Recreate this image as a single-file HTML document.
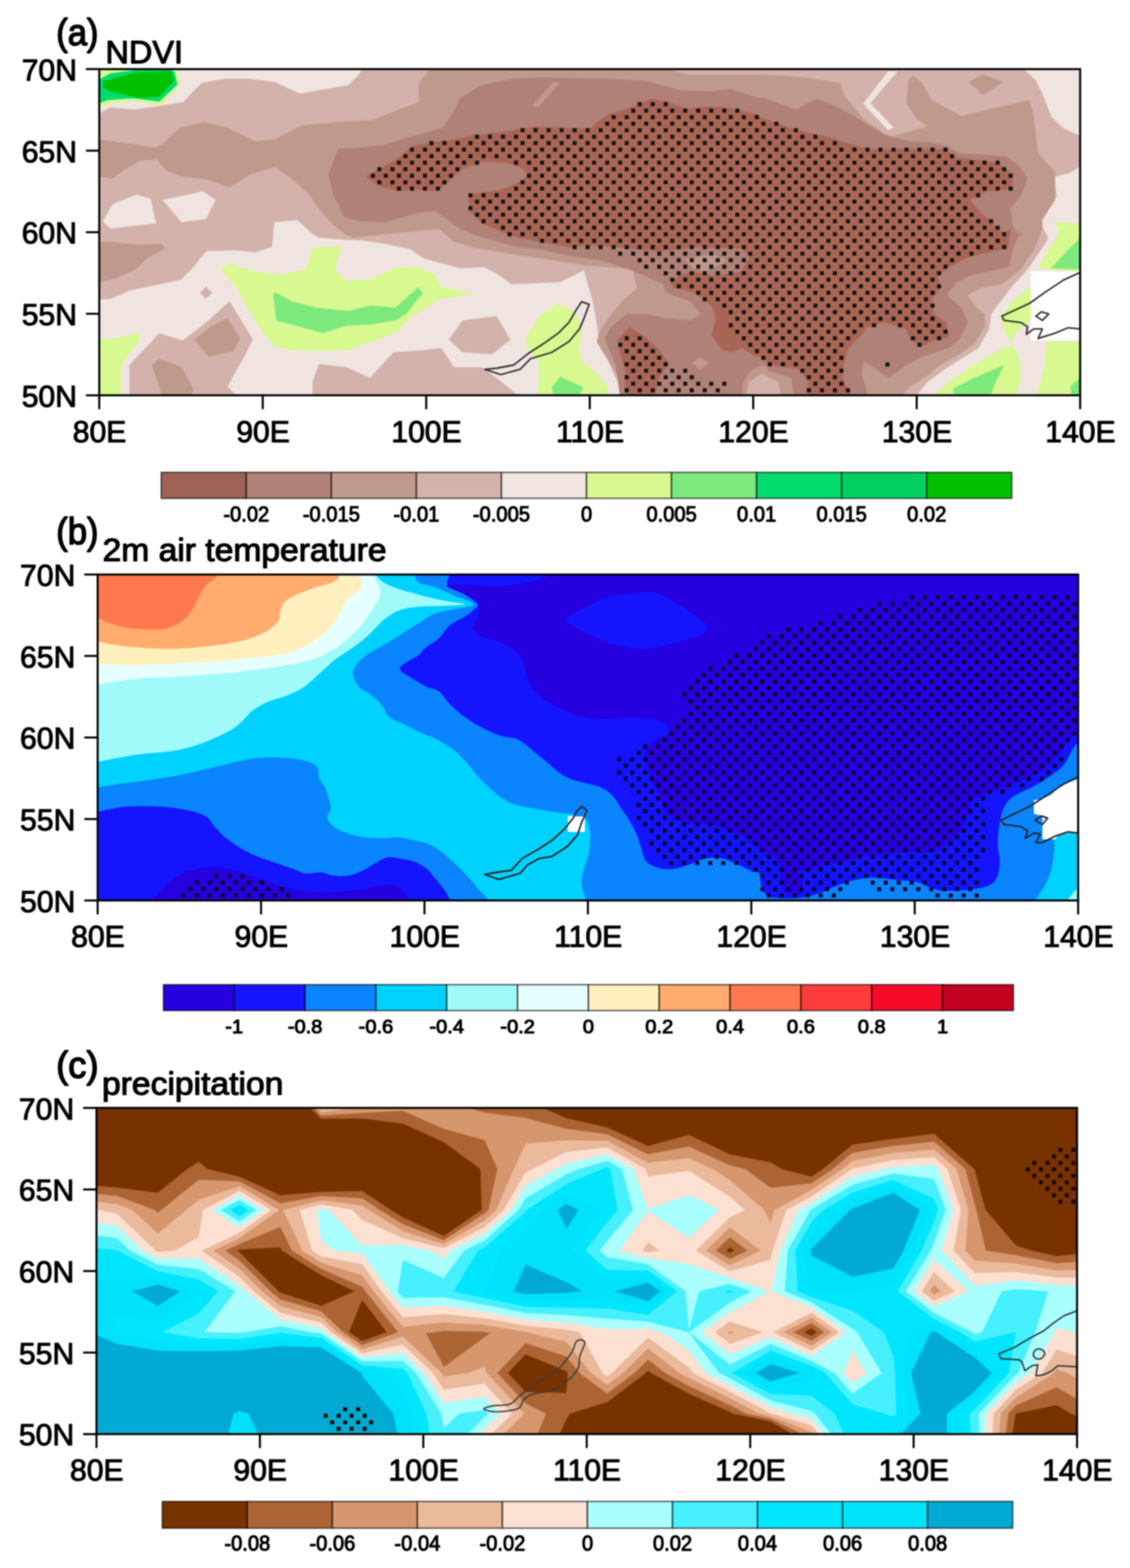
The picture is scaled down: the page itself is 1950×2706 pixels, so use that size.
<!DOCTYPE html>
<html lang="en"><head><meta charset="utf-8"><title>NDVI, 2m air temperature, precipitation</title>
<style>
html,body{margin:0;padding:0;background:#fff}
svg{display:block;filter:blur(1.2px)}
text{font-family:"Liberation Sans",sans-serif;fill:#000}
.t{font-size:52px;stroke:#000;stroke-width:1.6px;stroke-linejoin:round}
.yl{text-anchor:end}
.xl{text-anchor:middle}
.cl{text-anchor:middle;stroke:#000;stroke-width:1.6px;stroke-linejoin:round}
.ttl{font-size:56px;stroke:#000;stroke-width:1.9px;stroke-linejoin:round}
.lab{font-size:65px;stroke:#000;stroke-width:2.4px;stroke-linejoin:round}
.fr{fill:none;stroke:#000;stroke-width:3.5}
.tk{fill:none;stroke:#000;stroke-width:3.5}
.cb{stroke:#000;stroke-opacity:.62;stroke-width:2.4}
</style></head><body>
<svg width="1950" height="2706" viewBox="0 0 1950 2706">
<rect width="1950" height="2706" fill="#fff"/>
<g id="panel-a">
<clipPath id="clip-a"><rect x="171.3" y="119.3" width="1692.7" height="562.9"/></clipPath>
<g clip-path="url(#clip-a)">
<rect x="150" y="100" width="1750" height="600" fill="#d2b2aa"/>
<polygon fill="#f0e4e1" points="171.3,196.3 190.4,185.3 232.6,188.9 271.2,183.4 317.1,176.1 326.3,165.1 348.3,143 388.7,135.7 429.1,135.7 473.1,141.2 517.2,161.4 601.7,146.7 623.7,122.9 623.7,110 150,110 150,196.3"/>
<polygon fill="#f0e4e1" points="177.5,381.7 194.1,352.4 234.5,335.8 260.2,343.2 269.3,385.4 190.4,394.6"/>
<polygon fill="#f0e4e1" points="280.4,345 350.1,330.3 372.2,345 355.6,378.1 313.4,383.6"/>
<polygon fill="#f0e4e1" points="150,516.2 171.3,516.2 190.4,516.2 223.4,501.5 311.6,483.1 333.6,461.1 355.6,433.6 407,431.7 440.1,435.4 469.5,426.2 473.1,383.6 513.5,379.9 539.2,403.8 550.2,410.1 590.6,413.4 627.4,415.2 664.1,420.7 708.1,429.9 732,446.4 794.5,462.9 834.8,461.1 856.9,472.1 882.6,490.5 930.3,488.6 967,486.8 1007.4,466.6 1022.1,516.2 1029.5,556.6 1033.1,585.9 1040.5,600.6 1058.8,644.7 1077.2,681.8 1077.2,699.8 150,699.8"/>
<polygon fill="#f0e4e1" points="1768.3,110 1768.3,121 1786.6,137.5 1799.5,163.2 1814.2,201.8 1836.2,222 1864.7,234.8 1882.1,234.8 1882.1,110"/>
<polygon fill="#f0e4e1" points="1882.1,282.6 1864.7,286.3 1845.4,299.1 1819.7,304.6 1823.4,339.5 1795.8,385.4 1808.7,410 1813.5,395 1806.1,417 1773.1,464.8 1743.7,497.8 1710.6,541.9 1707,567.6 1688.6,600.6 1659.2,619 1629.9,637.4 1600.5,659.4 1582.1,681.8 1582.1,699.8 1894.2,699.8"/>
<polygon fill="#d2b2aa" points="223.4,630 274.8,574.9 315.2,587.8 355.6,556.6 396,519.8 436.4,585.9 421.7,615.3 392.4,666.7 407,681.8 407,699.8 223.4,699.8"/>
<polygon fill="#d2b2aa" points="539.2,699.8 539.2,659.4 550.2,628.2 598,633.7 638.4,652 678.8,608 730.2,604.3 730.2,604.3 761.4,600.6 783.4,633.7 831.2,633.7 856.9,652 886.3,675.9 893.6,681.8 893.6,699.8"/>
<polygon fill="#d2b2aa" points="774.3,585.9 798.1,552.9 856.9,545.6 880.7,585.9 849.5,611.6 798.1,608"/>
<polygon fill="#d2b2aa" points="344.6,505.2 355.6,494.9 366.6,505.2 355.6,515.4"/>
<polygon fill="#bf998c" points="150,240.4 171.3,240.4 223.4,247.7 271.2,255 311.6,220.2 353.8,211 392.4,220.2 440.1,244 473.1,240.4 520.9,216.5 601.7,209.1 642,207.3 722.8,176.1 722.8,143 737.5,124.7 737.5,110 1150.6,110 1150.6,119.2 1187.4,128.4 1310,128.4 1343.4,130.2 1391.2,133.9 1449.9,143 1457.3,165.1 1490.3,205.5 1527,231.2 1541.7,234.8 1600.5,218.3 1582.1,205.5 1563.8,177.9 1567.4,139.4 1574.8,130.2 1589.5,141.2 1607.8,172.4 1659.2,200 1776.7,172.4 1784.1,201.8 1791.4,264.2 1820.8,297.3 1820.8,345 1798.8,378.1 1798.8,395 1784.1,431.7 1762,464.8 1729,490.5 1695.9,496 1670.2,508.8 1684.9,530.9 1699.6,541.9 1699.6,563.9 1681.3,593.3 1655.6,611.6 1622.5,630 1600.5,648.4 1571.1,666.7 1556.4,681.8 1556.4,699.8 1069.9,699.8 1069.9,681.8 1064.3,644.7 1040.5,608 1029.5,589.6 1036.8,567.6 1055.2,541.9 1077.2,516.2 1099.2,497.8 1091.9,464.8 1003.8,457.4 937.7,446.4 886.3,439.1 820.2,428 783.4,417 757.7,395 609,410 594.3,403.8 572.3,385.4 550.2,359.7 531.9,334 502.5,308.3 475,288.1 432.7,300.9 396,323 359.3,310.1 311.6,304.6 285.9,293.6 271.2,275.2 241.8,277.1 214.3,293.6 194.1,308.3 171.3,304.6 150,304.6"/>
<polygon fill="#bf998c" points="150,417 171.3,417 186.7,417 241.8,422.5 278.5,420.7 285.9,428 252.8,446.4 234.5,464.8 197.7,481.3 171.3,486.8 150,486.8"/>
<polygon fill="#bf998c" points="335.4,585.9 363,563.9 392.4,549.2 414.4,584.1 403.4,606.1 359.3,615.3"/>
<polygon fill="#bf998c" points="262,630 274.8,619 313.4,633.7 333.6,670.4 326.3,699.8 285.9,699.8"/>
<polygon fill="#bf998c" points="1671,141.2 1696.7,128.4 1731.6,141.2 1696.7,164.2"/>
<polygon fill="#f0e4e1" points="1532.5,122.9 1549.1,122.9 1502.1,177.9 1542.5,220.2 1532.5,224.6 1489.6,179"/>
<polygon fill="#b08176" points="583.3,256.9 623.7,255 664.1,249.5 700.8,238.5 765.1,220.2 783.4,190.8 794.5,168.8 831.2,146.7 886.3,135.7 937.7,133.9 1040.5,135.7 1113.9,139.4 1176.3,155.9 1224.1,157.7 1260.8,154.1 1310,168.8 1317.7,168.8 1372.8,188.9 1409.5,170.6 1442.6,183.4 1475.6,201.8 1505,220.2 1534.4,236.7 1574.8,244 1607.8,245.9 1637.2,253.2 1655.6,264.2 1736.3,269.7 1758.4,286.3 1773.1,308.3 1762,337.7 1743.7,359.7 1747.4,389.1 1762,410 1762,395 1747.4,431.7 1740,461.1 1673.9,475.8 1651.9,486.8 1633.5,508.8 1659.2,530.9 1670.2,556.6 1655.6,585.9 1637.2,600.6 1593.1,615.3 1563.8,630 1534.4,652 1490.3,622.7 1486.6,644.7 1497.7,681.8 1497.7,699.8 1077.2,699.8 1069.9,681.8 1062.5,630 1044.1,585.9 1051.5,567.6 1080.9,541.9 1113.9,541.9 1150.6,549.2 1191,552.9 1209.4,541.9 1191,519.8 1150.6,505.2 1143.3,490.5 1095.6,468.4 1040.5,450.1 989.1,442.7 937.7,431.7 886.3,424.4 820.2,406 794.5,395 750,363.4 722.8,367 664.1,383.6 620,381.7 594.3,374.4 575.9,337.7 566.8,300.9"/>
<polygon fill="#bf998c" points="1277.3,699.8 1282.8,659.4 1297.5,637.4 1319.5,630 1325.1,639.2 1365.5,652 1372.8,699.8"/>
<polygon fill="#d2b2aa" points="1284.7,699.8 1292,659.4 1314.1,644.7 1343.4,659.4 1350.8,699.8"/>
<polygon fill="#bf998c" points="954.2,141.2 967,142.3 930.3,183.4 917.5,183.4"/>
<polygon fill="#aa6655" points="631,304.6 664.1,286.3 693.5,267.9 711.8,251.4 746.7,245.9 783.4,240.4 820.2,233 867.9,227.5 923,218.3 974.4,220.2 1018.4,222 1033.1,209.1 1047.8,198.1 1077.2,188.9 1124.9,170.6 1154.3,176.1 1183.7,187.1 1224.1,183.4 1253.5,185.3 1310,198.1 1306.7,200 1372.8,223.8 1431.6,236.7 1464.6,247.7 1497.7,256.9 1633.5,256.9 1648.2,271.6 1721.7,280.7 1747.4,300.9 1747.4,326.6 1703.3,330.3 1673.9,345 1692.3,367 1710.6,381.7 1732.7,403.8 1743.7,395 1740,428 1673.9,442.7 1637.2,461.1 1618.8,475.8 1622.5,497.8 1607.8,516.2 1611.5,541.9 1633.5,556.6 1637.2,582.3 1611.5,587.8 1589.5,598.8 1571.1,585.9 1563.8,567.6 1527,556.6 1497.7,563.9 1486.6,578.6 1464.6,600.6 1457.3,622.7 1453.6,652 1468.3,681.8 1468.3,699.8 1391.2,699.8 1394.8,659.4 1380.2,637.4 1328.8,630 1306.7,611.6 1292,600.6 1270,585.9 1282.8,585.9 1260.8,563.9 1253.5,541.9 1224.1,523.5 1198.4,505.2 1161.7,496 1150.6,475.8 1113.9,461.1 1069.9,439.1 989.1,428 930.3,417 875.2,406 875.2,403.8 831.2,385.4 809.1,363.4 809.1,335.8 867.9,326.6 897.3,313.8 910.1,302.8 900.9,289.9 871.6,280.7 831.2,278.9 794.5,293.6 772.4,315.6 754.1,330.3 710,326.6 689.8,330.3 653.1,321.1"/>
<polygon fill="#aa6655" points="1066.3,585.9 1085.9,563.9 1112.8,581 1137.3,603.1 1154.4,627.6 1137.3,652 1127.5,693.7 1078.5,693.7 1078.5,639.8 1071.2,615.3"/>
<polygon fill="#aa6655" points="1213.2,512.5 1230.3,532.1 1235.2,549.2 1227.9,578.6 1245,603.1 1262.1,608 1279.3,600.6 1303.8,615.3 1318.4,616.5 1281.7,582.3 1262.1,563.9 1271.9,549.2 1252.4,528.4"/>
<polygon fill="#b08176" points="1010,423.2 1071.2,426.8 1132.4,434.2 1205.8,426.8 1279.3,429.3 1294,444 1279.3,468.4 1230.3,475.8 1193.6,468.4 1171.6,475.8 1147.1,492.9 1115.3,466 1081,453.8 1034.5,441.5 1010,432.9 990.4,426.8"/>
<polygon fill="#bf998c" points="1181.4,446.4 1230.3,437.8 1254.8,450.1 1218.1,468.4 1196,463.5"/>
<polygon fill="#bf998c" points="1193.6,627.1 1208.3,616.5 1223,627.6 1208.3,638.6"/>
<path d="M1103.9 179.8h0M1126.4 179.8h0M1148.8 179.8h0M1092.7 191.0h0M1115.1 191.0h0M1137.6 191.0h0M1160.1 191.0h0M1182.5 191.0h0M1205.0 191.0h0M1227.4 191.0h0M1249.9 191.0h0M1272.4 191.0h0M1059.0 202.2h0M1081.5 202.2h0M1103.9 202.2h0M1126.4 202.2h0M1148.8 202.2h0M1171.3 202.2h0M1193.8 202.2h0M1216.2 202.2h0M1238.7 202.2h0M1261.1 202.2h0M1283.6 202.2h0M1306.1 202.2h0M1047.8 213.4h0M1070.2 213.4h0M1092.7 213.4h0M1115.1 213.4h0M1137.6 213.4h0M1160.1 213.4h0M1182.5 213.4h0M1205.0 213.4h0M1227.4 213.4h0M1249.9 213.4h0M1272.4 213.4h0M1294.8 213.4h0M1317.3 213.4h0M1339.8 213.4h0M901.8 224.7h0M924.2 224.7h0M946.7 224.7h0M969.2 224.7h0M991.6 224.7h0M1014.1 224.7h0M1036.5 224.7h0M1059.0 224.7h0M1081.5 224.7h0M1103.9 224.7h0M1126.4 224.7h0M1148.8 224.7h0M1171.3 224.7h0M1193.8 224.7h0M1216.2 224.7h0M1238.7 224.7h0M1261.1 224.7h0M1283.6 224.7h0M1306.1 224.7h0M1328.5 224.7h0M1351.0 224.7h0M1373.4 224.7h0M823.2 235.9h0M845.6 235.9h0M868.1 235.9h0M890.5 235.9h0M913.0 235.9h0M935.5 235.9h0M957.9 235.9h0M980.4 235.9h0M1002.8 235.9h0M1025.3 235.9h0M1047.8 235.9h0M1070.2 235.9h0M1092.7 235.9h0M1115.1 235.9h0M1137.6 235.9h0M1160.1 235.9h0M1182.5 235.9h0M1205.0 235.9h0M1227.4 235.9h0M1249.9 235.9h0M1272.4 235.9h0M1294.8 235.9h0M1317.3 235.9h0M1339.8 235.9h0M1362.2 235.9h0M1384.7 235.9h0M1407.1 235.9h0M744.6 247.1h0M767.0 247.1h0M789.5 247.1h0M811.9 247.1h0M834.4 247.1h0M856.9 247.1h0M879.3 247.1h0M901.8 247.1h0M924.2 247.1h0M946.7 247.1h0M969.2 247.1h0M991.6 247.1h0M1014.1 247.1h0M1036.5 247.1h0M1059.0 247.1h0M1081.5 247.1h0M1103.9 247.1h0M1126.4 247.1h0M1148.8 247.1h0M1171.3 247.1h0M1193.8 247.1h0M1216.2 247.1h0M1238.7 247.1h0M1261.1 247.1h0M1283.6 247.1h0M1306.1 247.1h0M1328.5 247.1h0M1351.0 247.1h0M1373.4 247.1h0M1395.9 247.1h0M1418.4 247.1h0M1440.8 247.1h0M710.9 258.3h0M733.3 258.3h0M755.8 258.3h0M778.2 258.3h0M800.7 258.3h0M823.2 258.3h0M845.6 258.3h0M868.1 258.3h0M890.5 258.3h0M913.0 258.3h0M935.5 258.3h0M957.9 258.3h0M980.4 258.3h0M1002.8 258.3h0M1025.3 258.3h0M1047.8 258.3h0M1070.2 258.3h0M1092.7 258.3h0M1115.1 258.3h0M1137.6 258.3h0M1160.1 258.3h0M1182.5 258.3h0M1205.0 258.3h0M1227.4 258.3h0M1249.9 258.3h0M1272.4 258.3h0M1294.8 258.3h0M1317.3 258.3h0M1339.8 258.3h0M1362.2 258.3h0M1384.7 258.3h0M1407.1 258.3h0M1429.6 258.3h0M1452.0 258.3h0M1474.5 258.3h0M1497.0 258.3h0M1519.4 258.3h0M1541.9 258.3h0M1564.3 258.3h0M1586.8 258.3h0M1609.3 258.3h0M1631.7 258.3h0M699.6 269.5h0M722.1 269.5h0M744.6 269.5h0M767.0 269.5h0M789.5 269.5h0M811.9 269.5h0M834.4 269.5h0M856.9 269.5h0M879.3 269.5h0M901.8 269.5h0M924.2 269.5h0M946.7 269.5h0M969.2 269.5h0M991.6 269.5h0M1014.1 269.5h0M1036.5 269.5h0M1059.0 269.5h0M1081.5 269.5h0M1103.9 269.5h0M1126.4 269.5h0M1148.8 269.5h0M1171.3 269.5h0M1193.8 269.5h0M1216.2 269.5h0M1238.7 269.5h0M1261.1 269.5h0M1283.6 269.5h0M1306.1 269.5h0M1328.5 269.5h0M1351.0 269.5h0M1373.4 269.5h0M1395.9 269.5h0M1418.4 269.5h0M1440.8 269.5h0M1463.3 269.5h0M1485.7 269.5h0M1508.2 269.5h0M1530.7 269.5h0M1553.1 269.5h0M1575.6 269.5h0M1598.0 269.5h0M1620.5 269.5h0M1643.0 269.5h0M688.4 280.8h0M710.9 280.8h0M733.3 280.8h0M755.8 280.8h0M778.2 280.8h0M800.7 280.8h0M823.2 280.8h0M890.5 280.8h0M913.0 280.8h0M935.5 280.8h0M957.9 280.8h0M980.4 280.8h0M1002.8 280.8h0M1025.3 280.8h0M1047.8 280.8h0M1070.2 280.8h0M1092.7 280.8h0M1115.1 280.8h0M1137.6 280.8h0M1160.1 280.8h0M1182.5 280.8h0M1205.0 280.8h0M1227.4 280.8h0M1249.9 280.8h0M1272.4 280.8h0M1294.8 280.8h0M1317.3 280.8h0M1339.8 280.8h0M1362.2 280.8h0M1384.7 280.8h0M1407.1 280.8h0M1429.6 280.8h0M1452.0 280.8h0M1474.5 280.8h0M1497.0 280.8h0M1519.4 280.8h0M1541.9 280.8h0M1564.3 280.8h0M1586.8 280.8h0M1609.3 280.8h0M1631.7 280.8h0M1654.2 280.8h0M1676.6 280.8h0M1699.1 280.8h0M1721.6 280.8h0M654.7 292.0h0M677.2 292.0h0M699.6 292.0h0M722.1 292.0h0M744.6 292.0h0M767.0 292.0h0M789.5 292.0h0M924.2 292.0h0M946.7 292.0h0M969.2 292.0h0M991.6 292.0h0M1014.1 292.0h0M1036.5 292.0h0M1059.0 292.0h0M1081.5 292.0h0M1103.9 292.0h0M1126.4 292.0h0M1148.8 292.0h0M1171.3 292.0h0M1193.8 292.0h0M1216.2 292.0h0M1238.7 292.0h0M1261.1 292.0h0M1283.6 292.0h0M1306.1 292.0h0M1328.5 292.0h0M1351.0 292.0h0M1373.4 292.0h0M1395.9 292.0h0M1418.4 292.0h0M1440.8 292.0h0M1463.3 292.0h0M1485.7 292.0h0M1508.2 292.0h0M1530.7 292.0h0M1553.1 292.0h0M1575.6 292.0h0M1598.0 292.0h0M1620.5 292.0h0M1643.0 292.0h0M1665.4 292.0h0M1687.9 292.0h0M1710.3 292.0h0M1732.8 292.0h0M643.5 303.2h0M665.9 303.2h0M688.4 303.2h0M710.9 303.2h0M733.3 303.2h0M755.8 303.2h0M778.2 303.2h0M913.0 303.2h0M935.5 303.2h0M957.9 303.2h0M980.4 303.2h0M1002.8 303.2h0M1025.3 303.2h0M1047.8 303.2h0M1070.2 303.2h0M1092.7 303.2h0M1115.1 303.2h0M1137.6 303.2h0M1160.1 303.2h0M1182.5 303.2h0M1205.0 303.2h0M1227.4 303.2h0M1249.9 303.2h0M1272.4 303.2h0M1294.8 303.2h0M1317.3 303.2h0M1339.8 303.2h0M1362.2 303.2h0M1384.7 303.2h0M1407.1 303.2h0M1429.6 303.2h0M1452.0 303.2h0M1474.5 303.2h0M1497.0 303.2h0M1519.4 303.2h0M1541.9 303.2h0M1564.3 303.2h0M1586.8 303.2h0M1609.3 303.2h0M1631.7 303.2h0M1654.2 303.2h0M1676.6 303.2h0M1699.1 303.2h0M1721.6 303.2h0M1744.0 303.2h0M654.7 314.4h0M677.2 314.4h0M699.6 314.4h0M722.1 314.4h0M744.6 314.4h0M767.0 314.4h0M901.8 314.4h0M924.2 314.4h0M946.7 314.4h0M969.2 314.4h0M991.6 314.4h0M1014.1 314.4h0M1036.5 314.4h0M1059.0 314.4h0M1081.5 314.4h0M1103.9 314.4h0M1126.4 314.4h0M1148.8 314.4h0M1171.3 314.4h0M1193.8 314.4h0M1216.2 314.4h0M1238.7 314.4h0M1261.1 314.4h0M1283.6 314.4h0M1306.1 314.4h0M1328.5 314.4h0M1351.0 314.4h0M1373.4 314.4h0M1395.9 314.4h0M1418.4 314.4h0M1440.8 314.4h0M1463.3 314.4h0M1485.7 314.4h0M1508.2 314.4h0M1530.7 314.4h0M1553.1 314.4h0M1575.6 314.4h0M1598.0 314.4h0M1620.5 314.4h0M1643.0 314.4h0M1665.4 314.4h0M1687.9 314.4h0M1710.3 314.4h0M1732.8 314.4h0M688.4 325.6h0M710.9 325.6h0M733.3 325.6h0M755.8 325.6h0M890.5 325.6h0M913.0 325.6h0M935.5 325.6h0M957.9 325.6h0M980.4 325.6h0M1002.8 325.6h0M1025.3 325.6h0M1047.8 325.6h0M1070.2 325.6h0M1092.7 325.6h0M1115.1 325.6h0M1137.6 325.6h0M1160.1 325.6h0M1182.5 325.6h0M1205.0 325.6h0M1227.4 325.6h0M1249.9 325.6h0M1272.4 325.6h0M1294.8 325.6h0M1317.3 325.6h0M1339.8 325.6h0M1362.2 325.6h0M1384.7 325.6h0M1407.1 325.6h0M1429.6 325.6h0M1452.0 325.6h0M1474.5 325.6h0M1497.0 325.6h0M1519.4 325.6h0M1541.9 325.6h0M1564.3 325.6h0M1586.8 325.6h0M1609.3 325.6h0M1631.7 325.6h0M1654.2 325.6h0M1676.6 325.6h0M1699.1 325.6h0M1721.6 325.6h0M1744.0 325.6h0M811.9 336.9h0M834.4 336.9h0M856.9 336.9h0M879.3 336.9h0M901.8 336.9h0M924.2 336.9h0M946.7 336.9h0M969.2 336.9h0M991.6 336.9h0M1014.1 336.9h0M1036.5 336.9h0M1059.0 336.9h0M1081.5 336.9h0M1103.9 336.9h0M1126.4 336.9h0M1148.8 336.9h0M1171.3 336.9h0M1193.8 336.9h0M1216.2 336.9h0M1238.7 336.9h0M1261.1 336.9h0M1283.6 336.9h0M1306.1 336.9h0M1328.5 336.9h0M1351.0 336.9h0M1373.4 336.9h0M1395.9 336.9h0M1418.4 336.9h0M1440.8 336.9h0M1463.3 336.9h0M1485.7 336.9h0M1508.2 336.9h0M1530.7 336.9h0M1553.1 336.9h0M1575.6 336.9h0M1598.0 336.9h0M1620.5 336.9h0M1643.0 336.9h0M1665.4 336.9h0M1687.9 336.9h0M823.2 348.1h0M845.6 348.1h0M868.1 348.1h0M890.5 348.1h0M913.0 348.1h0M935.5 348.1h0M957.9 348.1h0M980.4 348.1h0M1002.8 348.1h0M1025.3 348.1h0M1047.8 348.1h0M1070.2 348.1h0M1092.7 348.1h0M1115.1 348.1h0M1137.6 348.1h0M1160.1 348.1h0M1182.5 348.1h0M1205.0 348.1h0M1227.4 348.1h0M1249.9 348.1h0M1272.4 348.1h0M1294.8 348.1h0M1317.3 348.1h0M1339.8 348.1h0M1362.2 348.1h0M1384.7 348.1h0M1407.1 348.1h0M1429.6 348.1h0M1452.0 348.1h0M1474.5 348.1h0M1497.0 348.1h0M1519.4 348.1h0M1541.9 348.1h0M1564.3 348.1h0M1586.8 348.1h0M1609.3 348.1h0M1631.7 348.1h0M1654.2 348.1h0M811.9 359.3h0M834.4 359.3h0M856.9 359.3h0M879.3 359.3h0M901.8 359.3h0M924.2 359.3h0M946.7 359.3h0M969.2 359.3h0M991.6 359.3h0M1014.1 359.3h0M1036.5 359.3h0M1059.0 359.3h0M1081.5 359.3h0M1103.9 359.3h0M1126.4 359.3h0M1148.8 359.3h0M1171.3 359.3h0M1193.8 359.3h0M1216.2 359.3h0M1238.7 359.3h0M1261.1 359.3h0M1283.6 359.3h0M1306.1 359.3h0M1328.5 359.3h0M1351.0 359.3h0M1373.4 359.3h0M1395.9 359.3h0M1418.4 359.3h0M1440.8 359.3h0M1463.3 359.3h0M1485.7 359.3h0M1508.2 359.3h0M1530.7 359.3h0M1553.1 359.3h0M1575.6 359.3h0M1598.0 359.3h0M1620.5 359.3h0M1643.0 359.3h0M1665.4 359.3h0M823.2 370.5h0M845.6 370.5h0M868.1 370.5h0M890.5 370.5h0M913.0 370.5h0M935.5 370.5h0M957.9 370.5h0M980.4 370.5h0M1002.8 370.5h0M1025.3 370.5h0M1047.8 370.5h0M1070.2 370.5h0M1092.7 370.5h0M1115.1 370.5h0M1137.6 370.5h0M1160.1 370.5h0M1182.5 370.5h0M1205.0 370.5h0M1227.4 370.5h0M1249.9 370.5h0M1272.4 370.5h0M1294.8 370.5h0M1317.3 370.5h0M1339.8 370.5h0M1362.2 370.5h0M1384.7 370.5h0M1407.1 370.5h0M1429.6 370.5h0M1452.0 370.5h0M1474.5 370.5h0M1497.0 370.5h0M1519.4 370.5h0M1541.9 370.5h0M1564.3 370.5h0M1586.8 370.5h0M1609.3 370.5h0M1631.7 370.5h0M1654.2 370.5h0M1676.6 370.5h0M834.4 381.7h0M856.9 381.7h0M879.3 381.7h0M901.8 381.7h0M924.2 381.7h0M946.7 381.7h0M969.2 381.7h0M991.6 381.7h0M1014.1 381.7h0M1036.5 381.7h0M1059.0 381.7h0M1081.5 381.7h0M1103.9 381.7h0M1126.4 381.7h0M1148.8 381.7h0M1171.3 381.7h0M1193.8 381.7h0M1216.2 381.7h0M1238.7 381.7h0M1261.1 381.7h0M1283.6 381.7h0M1306.1 381.7h0M1328.5 381.7h0M1351.0 381.7h0M1373.4 381.7h0M1395.9 381.7h0M1418.4 381.7h0M1440.8 381.7h0M1463.3 381.7h0M1485.7 381.7h0M1508.2 381.7h0M1530.7 381.7h0M1553.1 381.7h0M1575.6 381.7h0M1598.0 381.7h0M1620.5 381.7h0M1643.0 381.7h0M1665.4 381.7h0M1687.9 381.7h0M1710.3 381.7h0M868.1 393.0h0M890.5 393.0h0M913.0 393.0h0M935.5 393.0h0M957.9 393.0h0M980.4 393.0h0M1002.8 393.0h0M1025.3 393.0h0M1047.8 393.0h0M1070.2 393.0h0M1092.7 393.0h0M1115.1 393.0h0M1137.6 393.0h0M1160.1 393.0h0M1182.5 393.0h0M1205.0 393.0h0M1227.4 393.0h0M1249.9 393.0h0M1272.4 393.0h0M1294.8 393.0h0M1317.3 393.0h0M1339.8 393.0h0M1362.2 393.0h0M1384.7 393.0h0M1407.1 393.0h0M1429.6 393.0h0M1452.0 393.0h0M1474.5 393.0h0M1497.0 393.0h0M1519.4 393.0h0M1541.9 393.0h0M1564.3 393.0h0M1586.8 393.0h0M1609.3 393.0h0M1631.7 393.0h0M1654.2 393.0h0M1676.6 393.0h0M1699.1 393.0h0M1721.6 393.0h0M879.3 404.2h0M901.8 404.2h0M924.2 404.2h0M946.7 404.2h0M969.2 404.2h0M991.6 404.2h0M1014.1 404.2h0M1036.5 404.2h0M1059.0 404.2h0M1081.5 404.2h0M1103.9 404.2h0M1126.4 404.2h0M1148.8 404.2h0M1171.3 404.2h0M1193.8 404.2h0M1216.2 404.2h0M1238.7 404.2h0M1261.1 404.2h0M1283.6 404.2h0M1306.1 404.2h0M1328.5 404.2h0M1351.0 404.2h0M1373.4 404.2h0M1395.9 404.2h0M1418.4 404.2h0M1440.8 404.2h0M1463.3 404.2h0M1485.7 404.2h0M1508.2 404.2h0M1530.7 404.2h0M1553.1 404.2h0M1575.6 404.2h0M1598.0 404.2h0M1620.5 404.2h0M1643.0 404.2h0M1665.4 404.2h0M1687.9 404.2h0M1710.3 404.2h0M1732.8 404.2h0M935.5 415.4h0M957.9 415.4h0M980.4 415.4h0M1002.8 415.4h0M1025.3 415.4h0M1047.8 415.4h0M1070.2 415.4h0M1092.7 415.4h0M1115.1 415.4h0M1137.6 415.4h0M1160.1 415.4h0M1182.5 415.4h0M1205.0 415.4h0M1227.4 415.4h0M1249.9 415.4h0M1272.4 415.4h0M1294.8 415.4h0M1317.3 415.4h0M1339.8 415.4h0M1362.2 415.4h0M1384.7 415.4h0M1407.1 415.4h0M1429.6 415.4h0M1452.0 415.4h0M1474.5 415.4h0M1497.0 415.4h0M1519.4 415.4h0M1541.9 415.4h0M1564.3 415.4h0M1586.8 415.4h0M1609.3 415.4h0M1631.7 415.4h0M1654.2 415.4h0M1676.6 415.4h0M1699.1 415.4h0M1721.6 415.4h0M991.6 426.6h0M1014.1 426.6h0M1036.5 426.6h0M1059.0 426.6h0M1081.5 426.6h0M1103.9 426.6h0M1126.4 426.6h0M1148.8 426.6h0M1171.3 426.6h0M1193.8 426.6h0M1216.2 426.6h0M1238.7 426.6h0M1261.1 426.6h0M1283.6 426.6h0M1306.1 426.6h0M1328.5 426.6h0M1351.0 426.6h0M1373.4 426.6h0M1395.9 426.6h0M1418.4 426.6h0M1440.8 426.6h0M1463.3 426.6h0M1485.7 426.6h0M1508.2 426.6h0M1530.7 426.6h0M1553.1 426.6h0M1575.6 426.6h0M1598.0 426.6h0M1620.5 426.6h0M1643.0 426.6h0M1665.4 426.6h0M1687.9 426.6h0M1710.3 426.6h0M1732.8 426.6h0M1070.2 437.8h0M1092.7 437.8h0M1115.1 437.8h0M1137.6 437.8h0M1160.1 437.8h0M1182.5 437.8h0M1205.0 437.8h0M1227.4 437.8h0M1249.9 437.8h0M1272.4 437.8h0M1294.8 437.8h0M1317.3 437.8h0M1339.8 437.8h0M1362.2 437.8h0M1384.7 437.8h0M1407.1 437.8h0M1429.6 437.8h0M1452.0 437.8h0M1474.5 437.8h0M1497.0 437.8h0M1519.4 437.8h0M1541.9 437.8h0M1564.3 437.8h0M1586.8 437.8h0M1609.3 437.8h0M1631.7 437.8h0M1654.2 437.8h0M1676.6 437.8h0M1103.9 449.1h0M1126.4 449.1h0M1148.8 449.1h0M1171.3 449.1h0M1193.8 449.1h0M1216.2 449.1h0M1238.7 449.1h0M1261.1 449.1h0M1283.6 449.1h0M1306.1 449.1h0M1328.5 449.1h0M1351.0 449.1h0M1373.4 449.1h0M1395.9 449.1h0M1418.4 449.1h0M1440.8 449.1h0M1463.3 449.1h0M1485.7 449.1h0M1508.2 449.1h0M1530.7 449.1h0M1553.1 449.1h0M1575.6 449.1h0M1598.0 449.1h0M1620.5 449.1h0M1643.0 449.1h0M1115.1 460.3h0M1137.6 460.3h0M1160.1 460.3h0M1182.5 460.3h0M1205.0 460.3h0M1227.4 460.3h0M1249.9 460.3h0M1272.4 460.3h0M1294.8 460.3h0M1317.3 460.3h0M1339.8 460.3h0M1362.2 460.3h0M1384.7 460.3h0M1407.1 460.3h0M1429.6 460.3h0M1452.0 460.3h0M1474.5 460.3h0M1497.0 460.3h0M1519.4 460.3h0M1541.9 460.3h0M1564.3 460.3h0M1586.8 460.3h0M1609.3 460.3h0M1631.7 460.3h0M1148.8 471.5h0M1171.3 471.5h0M1193.8 471.5h0M1216.2 471.5h0M1238.7 471.5h0M1261.1 471.5h0M1283.6 471.5h0M1306.1 471.5h0M1328.5 471.5h0M1351.0 471.5h0M1373.4 471.5h0M1395.9 471.5h0M1418.4 471.5h0M1440.8 471.5h0M1463.3 471.5h0M1485.7 471.5h0M1508.2 471.5h0M1530.7 471.5h0M1553.1 471.5h0M1575.6 471.5h0M1598.0 471.5h0M1620.5 471.5h0M1160.1 482.7h0M1182.5 482.7h0M1205.0 482.7h0M1227.4 482.7h0M1249.9 482.7h0M1272.4 482.7h0M1294.8 482.7h0M1317.3 482.7h0M1339.8 482.7h0M1362.2 482.7h0M1384.7 482.7h0M1407.1 482.7h0M1429.6 482.7h0M1452.0 482.7h0M1474.5 482.7h0M1497.0 482.7h0M1519.4 482.7h0M1541.9 482.7h0M1564.3 482.7h0M1586.8 482.7h0M1609.3 482.7h0M1171.3 493.9h0M1193.8 493.9h0M1216.2 493.9h0M1238.7 493.9h0M1261.1 493.9h0M1283.6 493.9h0M1306.1 493.9h0M1328.5 493.9h0M1351.0 493.9h0M1373.4 493.9h0M1395.9 493.9h0M1418.4 493.9h0M1440.8 493.9h0M1463.3 493.9h0M1485.7 493.9h0M1508.2 493.9h0M1530.7 493.9h0M1553.1 493.9h0M1575.6 493.9h0M1598.0 493.9h0M1620.5 493.9h0M1205.0 505.2h0M1227.4 505.2h0M1249.9 505.2h0M1272.4 505.2h0M1294.8 505.2h0M1317.3 505.2h0M1339.8 505.2h0M1362.2 505.2h0M1384.7 505.2h0M1407.1 505.2h0M1429.6 505.2h0M1452.0 505.2h0M1474.5 505.2h0M1497.0 505.2h0M1519.4 505.2h0M1541.9 505.2h0M1564.3 505.2h0M1586.8 505.2h0M1609.3 505.2h0M1216.2 516.4h0M1238.7 516.4h0M1261.1 516.4h0M1283.6 516.4h0M1306.1 516.4h0M1328.5 516.4h0M1351.0 516.4h0M1373.4 516.4h0M1395.9 516.4h0M1418.4 516.4h0M1440.8 516.4h0M1463.3 516.4h0M1485.7 516.4h0M1508.2 516.4h0M1530.7 516.4h0M1553.1 516.4h0M1575.6 516.4h0M1598.0 516.4h0M1249.9 527.6h0M1272.4 527.6h0M1294.8 527.6h0M1317.3 527.6h0M1339.8 527.6h0M1362.2 527.6h0M1384.7 527.6h0M1407.1 527.6h0M1429.6 527.6h0M1452.0 527.6h0M1474.5 527.6h0M1497.0 527.6h0M1519.4 527.6h0M1541.9 527.6h0M1564.3 527.6h0M1586.8 527.6h0M1609.3 527.6h0M1261.1 538.8h0M1283.6 538.8h0M1306.1 538.8h0M1328.5 538.8h0M1351.0 538.8h0M1373.4 538.8h0M1395.9 538.8h0M1418.4 538.8h0M1440.8 538.8h0M1463.3 538.8h0M1485.7 538.8h0M1508.2 538.8h0M1530.7 538.8h0M1553.1 538.8h0M1575.6 538.8h0M1598.0 538.8h0M1272.4 550.0h0M1294.8 550.0h0M1317.3 550.0h0M1339.8 550.0h0M1362.2 550.0h0M1384.7 550.0h0M1407.1 550.0h0M1429.6 550.0h0M1452.0 550.0h0M1474.5 550.0h0M1497.0 550.0h0M1519.4 550.0h0M1541.9 550.0h0M1564.3 550.0h0M1586.8 550.0h0M1609.3 550.0h0M1261.1 561.3h0M1283.6 561.3h0M1306.1 561.3h0M1328.5 561.3h0M1351.0 561.3h0M1373.4 561.3h0M1395.9 561.3h0M1418.4 561.3h0M1440.8 561.3h0M1463.3 561.3h0M1485.7 561.3h0M1508.2 561.3h0M1553.1 561.3h0M1575.6 561.3h0M1598.0 561.3h0M1620.5 561.3h0M1272.4 572.5h0M1294.8 572.5h0M1317.3 572.5h0M1339.8 572.5h0M1362.2 572.5h0M1384.7 572.5h0M1407.1 572.5h0M1429.6 572.5h0M1452.0 572.5h0M1474.5 572.5h0M1586.8 572.5h0M1609.3 572.5h0M1631.7 572.5h0M1081.5 583.7h0M1103.9 583.7h0M1283.6 583.7h0M1306.1 583.7h0M1328.5 583.7h0M1351.0 583.7h0M1373.4 583.7h0M1395.9 583.7h0M1418.4 583.7h0M1440.8 583.7h0M1463.3 583.7h0M1575.6 583.7h0M1598.0 583.7h0M1620.5 583.7h0M1070.2 594.9h0M1092.7 594.9h0M1115.1 594.9h0M1294.8 594.9h0M1317.3 594.9h0M1339.8 594.9h0M1362.2 594.9h0M1384.7 594.9h0M1407.1 594.9h0M1429.6 594.9h0M1452.0 594.9h0M1586.8 594.9h0M1081.5 606.1h0M1103.9 606.1h0M1126.4 606.1h0M1306.1 606.1h0M1328.5 606.1h0M1351.0 606.1h0M1373.4 606.1h0M1395.9 606.1h0M1418.4 606.1h0M1440.8 606.1h0M1092.7 617.4h0M1115.1 617.4h0M1137.6 617.4h0M1317.3 617.4h0M1339.8 617.4h0M1362.2 617.4h0M1384.7 617.4h0M1407.1 617.4h0M1429.6 617.4h0M1452.0 617.4h0M1081.5 628.6h0M1103.9 628.6h0M1126.4 628.6h0M1148.8 628.6h0M1328.5 628.6h0M1351.0 628.6h0M1373.4 628.6h0M1395.9 628.6h0M1418.4 628.6h0M1440.8 628.6h0M1092.7 639.8h0M1115.1 639.8h0M1137.6 639.8h0M1160.1 639.8h0M1182.5 639.8h0M1384.7 639.8h0M1407.1 639.8h0M1429.6 639.8h0M1452.0 639.8h0M1081.5 651.0h0M1103.9 651.0h0M1126.4 651.0h0M1148.8 651.0h0M1171.3 651.0h0M1193.8 651.0h0M1395.9 651.0h0M1418.4 651.0h0M1440.8 651.0h0M1092.7 662.2h0M1115.1 662.2h0M1137.6 662.2h0M1160.1 662.2h0M1182.5 662.2h0M1205.0 662.2h0M1227.4 662.2h0M1249.9 662.2h0M1407.1 662.2h0M1429.6 662.2h0M1452.0 662.2h0M1081.5 673.5h0M1103.9 673.5h0M1126.4 673.5h0M1148.8 673.5h0M1171.3 673.5h0M1193.8 673.5h0M1216.2 673.5h0M1238.7 673.5h0M1395.9 673.5h0M1418.4 673.5h0M1440.8 673.5h0M1463.3 673.5h0M1092.7 684.7h0M1115.1 684.7h0M1137.6 684.7h0M1160.1 684.7h0M1182.5 684.7h0M1205.0 684.7h0M1227.4 684.7h0M1249.9 684.7h0M1407.1 684.7h0M1429.6 684.7h0M1452.0 684.7h0M1081.5 695.9h0M1103.9 695.9h0M1126.4 695.9h0M1148.8 695.9h0M1171.3 695.9h0M1193.8 695.9h0M1216.2 695.9h0M1238.7 695.9h0M1395.9 695.9h0M1418.4 695.9h0M1440.8 695.9h0M1463.3 695.9h0M1531.4 628.9h0" fill="none" stroke="#141414" stroke-width="7.0" stroke-linecap="square"/>
<polygon fill="#d8f890" points="150,185.3 171.3,185.3 186.7,179.8 230.8,174.3 276.7,181.6 311.6,146.7 306.1,124.7 296.9,110 150,110"/>
<polygon fill="#00dc6e" points="150,177.9 171.3,177.9 186.7,172.4 230.8,169.5 274.8,175.4 306.1,146 301.3,124.7 295,119.2 234.5,121 190.4,126.5 171.3,137.5 150,137.5"/>
<polygon fill="#00c000" points="179.4,139.4 234.5,125.4 295,122.9 300.6,139.4 274.8,166.9 238.1,168.8 190.4,157.7 177.5,150.4"/>
<polygon fill="#d8f890" points="150,582.3 171.3,582.3 186.7,585.9 236.3,574.9 241.8,585.9 223.4,609.8 208.8,630 208.8,674.1 214.3,699.8 150,699.8"/>
<polygon fill="#d8f890" points="379.5,464.8 396,455.6 440.1,468.4 480.5,473.9 528.2,464.8 539.2,428 588.8,424.4 577.8,464.8 598,485 642,481.3 678.8,462.9 722.8,461.1 750,473.9 761.4,496 820.2,505.2 783.4,512.5 757.7,516.2 732,534.5 710,545.6 700.8,556.6 682.4,574.9 642,589.6 601.7,604.3 553.9,606.1 502.5,604.3 473.1,597 451.1,571.3 429.1,534.5 407,494.1"/>
<polygon fill="#7eea7e" points="471.3,507 476.8,505.2 502.5,519.8 546.6,530.9 601.7,536.4 638.4,527.2 682.4,530.9 721,496 730.2,505.2 700.8,541.9 682.4,552.9 638.4,560.2 598,562.1 557.6,574.9 517.2,563.9 476.8,552.9"/>
<polygon fill="#d8f890" points="906.5,585.9 923,556.6 937.7,540 963.4,524.3 981.7,532.7 1000.1,549.2 1003.8,574.9 998.2,600.6 1003.8,622.7 1029.5,644.7 1047.8,666.7 1053.3,699.8 926.6,699.8 930.3,652 928.5,622.7 910.1,600.6"/>
<polygon fill="#7eea7e" points="952.4,668.6 967,650.2 1007.4,668.6 989.1,699.8 959.7,699.8"/>
<polygon fill="#d8f890" points="1817.9,383.6 1828.1,395 1820.8,413.4 1791.4,461.1 1817.1,466.6 1894.2,468.4 1894.2,387.7"/>
<polygon fill="#7eea7e" points="1894.2,402.3 1863.8,409.7 1842.8,431.7 1813.5,462.9 1857.5,464.8 1894.2,464.8"/>
<polygon fill="#d8f890" points="1778.6,494.1 1747.4,519.8 1725.3,549.2 1740,585.9 1747.4,593.3 1710.6,611.6 1673.9,633.7 1637.2,659.4 1611.5,681.8 1611.5,699.8 1747.4,699.8 1762,652 1758.4,615.3 1743.7,589.6 1754.7,571.3 1778.6,552.9"/>
<polygon fill="#7eea7e" points="1644.5,670.4 1681.3,652 1732.7,630 1718,659.4 1703.3,699.8 1651.9,699.8"/>
<polygon fill="#d8f890" points="1806.1,589.6 1894.2,589.6 1894.2,699.8 1784.1,699.8 1802.4,633.7"/>
<polygon fill="#7eea7e" points="1894.2,648.4 1863.8,652 1846.5,666.7 1853.8,699.8 1894.2,699.8"/>
<polygon fill="#ffffff" points="1778.6,468.4 1894.2,468.4 1894.2,587.8 1778.6,587.8"/>
<polygon fill="none" stroke="#333" stroke-width="2.8" stroke-linejoin="round" points="836.7,637.4 864.2,646.5 897.3,637.4 915.6,619 952.4,608 981.7,589.6 1000.1,567.6 1009.3,545.6 1016.6,525.4 1003.8,520.6 994.6,534.5 981.7,556.6 963.4,574.9 937.7,593.3 912,609.8 886.3,630 856.9,635.5"/>
<polyline fill="none" stroke="#333" stroke-width="2.8" stroke-linejoin="round" points="1894.2,464.8 1863.8,470.3 1835.5,483.1 1802.4,505.2 1776.7,523.5 1729,545.6 1732.7,552.9 1762,556.6 1773.1,563.9 1771.2,576.8 1784.1,567.6 1798.8,567.6 1791.4,584.1 1820.8,574.9 1842.8,565.7 1863.8,567.6 1894.2,567.6"/>
<polygon fill="none" stroke="#333" stroke-width="2.8" stroke-linejoin="round" points="1787.7,545.6 1796.9,538.2 1809.8,541.9 1798.8,552.9"/>
</g>
<rect class="fr" x="171.3" y="119.3" width="1692.7" height="562.9"/>
<path class="tk" d="M171.3 119.3h-23M171.3 260h-23M171.3 400.8h-23M171.3 541.5h-23M171.3 682.2h-23M171.3 682.2v24M453.4 682.2v24M735.5 682.2v24M1017.7 682.2v24M1299.8 682.2v24M1581.9 682.2v24M1864 682.2v24"/>
<text class="t yl" x="132.8" y="138.8">70N</text>
<text class="t yl" x="132.8" y="279.5">65N</text>
<text class="t yl" x="132.8" y="420.3">60N</text>
<text class="t yl" x="132.8" y="561">55N</text>
<text class="t yl" x="132.8" y="701.7">50N</text>
<text class="t xl" x="171.8" y="762.5">80E</text>
<text class="t xl" x="453.9" y="762.5">90E</text>
<text class="t xl" x="736" y="762.5">100E</text>
<text class="t xl" x="1018.2" y="762.5">110E</text>
<text class="t xl" x="1300.3" y="762.5">120E</text>
<text class="t xl" x="1582.4" y="762.5">130E</text>
<text class="t xl" x="1864.5" y="762.5">140E</text>
<text class="lab" x="97" y="78.3" textLength="73" lengthAdjust="spacingAndGlyphs">(a)</text>
<text class="ttl" x="182" y="108.8">NDVI</text>
<rect class="cb" x="278.2" y="815.2" width="146.8" height="44.8" fill="#9e6254"/>
<rect class="cb" x="425" y="815.2" width="146.8" height="44.8" fill="#b08176"/>
<rect class="cb" x="571.8" y="815.2" width="146.8" height="44.8" fill="#bf998c"/>
<rect class="cb" x="718.5" y="815.2" width="146.8" height="44.8" fill="#d2b2aa"/>
<rect class="cb" x="865.3" y="815.2" width="146.8" height="44.8" fill="#f0e4e1"/>
<rect class="cb" x="1012.1" y="815.2" width="146.8" height="44.8" fill="#d8f890"/>
<rect class="cb" x="1158.9" y="815.2" width="146.8" height="44.8" fill="#7eea7e"/>
<rect class="cb" x="1305.7" y="815.2" width="146.8" height="44.8" fill="#00dc6e"/>
<rect class="cb" x="1452.4" y="815.2" width="146.8" height="44.8" fill="#00d060"/>
<rect class="cb" x="1599.2" y="815.2" width="146.8" height="44.8" fill="#00c000"/>
<text class="cl" font-size="37" transform="translate(425 899.6) scale(0.94 1)">-0.02</text>
<text class="cl" font-size="37" transform="translate(571.8 899.6) scale(0.94 1)">-0.015</text>
<text class="cl" font-size="37" transform="translate(718.5 899.6) scale(0.94 1)">-0.01</text>
<text class="cl" font-size="37" transform="translate(865.3 899.6) scale(0.94 1)">-0.005</text>
<text class="cl" font-size="37" transform="translate(1012.1 899.6) scale(0.94 1)">0</text>
<text class="cl" font-size="37" transform="translate(1158.9 899.6) scale(0.94 1)">0.005</text>
<text class="cl" font-size="37" transform="translate(1305.7 899.6) scale(0.94 1)">0.01</text>
<text class="cl" font-size="37" transform="translate(1452.4 899.6) scale(0.94 1)">0.015</text>
<text class="cl" font-size="37" transform="translate(1599.2 899.6) scale(0.94 1)">0.02</text>
</g>
<g id="panel-b">
<clipPath id="clip-b"><rect x="168.5" y="991.5" width="1692" height="562.5"/></clipPath>
<g clip-path="url(#clip-b)">
<rect x="100" y="950" width="1850" height="650" fill="#ff7850"/>
<polygon fill="#ffac6e" points="385,980 383,982.6 380.2,986.4 376.9,990.7 373.5,994.9 370.3,998.4 367.3,1000.9 364.3,1002.9 361.2,1004.8 358.3,1006.8 355.6,1009.4 353.2,1012.5 351,1016 348.8,1019.8 346.8,1023.7 344.6,1027.7 342.5,1032 340.4,1036.5 338.3,1041 336,1045.5 333.6,1049.8 331,1053.8 328.3,1057.6 325.5,1061.4 322.4,1064.9 318.9,1068.1 315,1071.2 310.8,1074 306.3,1076.6 301.6,1079 296.9,1081 292.2,1082.7 287.6,1084.1 282.7,1085.2 277.3,1086 271.2,1086.5 264,1086.7 255.9,1086.5 247.4,1086.1 238.9,1085.5 230.8,1084.7 223,1083.6 215.3,1082.3 207.7,1080.8 200.6,1079.1 194.1,1077.3 188.2,1075.3 182.9,1072.9 178.1,1070.5 173.5,1068.2 169.1,1066.3 164.6,1064.7 160.1,1063.4 156,1062.3 152.5,1061.4 150,1060.8 100,1600 1950,1600 1950,950"/>
<polygon fill="#fff0be" points="587,980 586.6,983.1 586.3,987.6 585.6,992.7 583.6,997.7 579.6,1002 573.1,1005.4 564.5,1008.3 554.7,1010.9 544.7,1013.7 535.6,1016.7 526.8,1020.2 517.7,1023.8 509,1027.6 501.3,1031.3 495.2,1035.1 491,1038.8 488.3,1042.4 486.6,1046.1 485.4,1049.8 484.1,1053.4 483.2,1057.1 483,1060.8 482.9,1064.5 482.3,1068.1 480.5,1071.8 477.5,1075.5 473.7,1079.3 469.2,1083.1 464.1,1086.7 458.4,1090.2 452.3,1093.4 445.5,1096.6 438.2,1099.5 430.2,1102.3 421.7,1104.8 412.6,1107.1 402.9,1109.1 392.6,1110.9 381.8,1112.5 370.3,1114 358,1115.5 344.8,1116.8 331.1,1118 317.4,1119 304.2,1119.5 291.3,1119.7 278.3,1119.5 265.5,1119.1 253.3,1118.4 241.8,1117.7 230.9,1116.8 220.6,1115.8 210.8,1114.6 201.9,1113.4 194.1,1112.2 187.5,1111.1 182.2,1109.9 177.6,1108.8 173.3,1107.7 169.1,1106.7 164.6,1105.8 160.1,1104.9 156,1104.1 152.5,1103.5 150,1103 100,1600 1950,1600 1950,950"/>
<polygon fill="#e6ffff" points="612.7,980 614.8,984.7 618,991.4 621.4,999 623.7,1006.6 623.7,1013 620.7,1018 615.5,1022.3 609.2,1026.3 603,1030.4 598,1035.1 594.6,1040.4 592,1046.1 589.7,1052.1 587,1058.2 583.3,1064.5 578.5,1071 573,1077.9 566.9,1084.9 560.5,1091.5 553.9,1097.5 547,1102.8 539.8,1107.6 532.2,1112 524.7,1116 517.2,1119.5 510.4,1122.5 504.3,1124.9 497.8,1126.9 490.2,1128.8 480.5,1130.6 468.1,1132.3 453.7,1133.8 438.2,1135.3 422.3,1136.6 407,1137.9 392.4,1139.1 377.7,1140.3 363,1141.4 348.3,1142.4 333.6,1143.4 318.6,1144.3 303.3,1145.2 288.2,1146 273.7,1146.6 260.2,1147.1 247.7,1147.3 235.9,1147.4 224.9,1147.4 214.6,1147.3 205.1,1147.1 196.4,1146.8 188.5,1146.4 181.4,1146 174.9,1145.6 169.1,1145.2 163.9,1145 159.3,1144.8 155.5,1144.7 152.3,1144.6 150,1144.5 100,1600 1950,1600 1950,950"/>
<polygon fill="#a0fafa" points="640.2,980 640.9,981.8 641.8,984.1 642.9,987.1 644.2,990.6 645.7,994.7 647.9,999.7 650.9,1005.6 653.8,1011.9 656,1018.2 656.7,1024.1 655.8,1029.4 653.8,1034.3 650.8,1039.3 647.4,1044.3 643.9,1049.8 640.3,1055.6 636.5,1061.7 632.3,1068 627.5,1074.4 621.8,1081 615.3,1087.9 607.9,1095.3 599.9,1102.7 591.6,1109.6 583.3,1115.9 574.9,1121.3 566.4,1126.1 557.6,1130.5 548.6,1134.4 539.2,1137.9 529.9,1140.8 520.6,1143.1 510.9,1145 500.1,1146.9 487.8,1148.9 473.7,1151.2 458.2,1153.5 441.6,1155.8 424.4,1158 407,1159.9 389.1,1161.7 370.2,1163.3 351.2,1164.8 332.6,1166.1 315.2,1167.3 298.9,1168.2 283.1,1168.9 268.2,1169.5 254.3,1170.1 241.8,1170.9 230.9,1171.9 221.3,1173 212.8,1174.2 205.1,1175.3 197.7,1176.5 190.9,1177.6 184.7,1178.7 179.1,1179.9 174,1181 169.1,1182 164.4,1182.9 159.9,1183.7 155.8,1184.5 152.4,1185.2 150,1185.6 100,1600 1950,1600 1950,950"/>
<polygon fill="#00d2ff" points="643.9,980 644.3,981.4 644.7,983.4 645.3,985.8 646.3,988.4 647.9,991 650.1,993.8 652.6,996.8 655.7,999.9 659.1,1002.9 663,1005.7 667.5,1008.2 672.6,1010.6 678,1012.8 683.5,1014.9 688.7,1016.7 693.6,1018.3 698.4,1019.7 703.2,1020.9 707.9,1022.1 712.5,1023.3 717,1024.6 721.2,1025.9 725.5,1027.1 729.8,1028.3 734.6,1029.6 739.6,1030.8 744.8,1032.1 750.2,1033.3 755.9,1034.6 762.1,1035.8 769.5,1037.1 777.9,1038.4 786.4,1039.6 793.7,1040.8 798.8,1041.7 801.8,1042.4 803.2,1042.9 803.2,1043.2 801.8,1043.5 798.8,1043.9 793.8,1044.3 786.8,1044.7 778.6,1045.1 770,1045.4 762.1,1045.7 754.6,1046 747,1046.1 739.4,1046.2 732.2,1046.5 725.4,1046.8 719.2,1047.3 713.3,1047.9 707.8,1048.6 702.6,1049.5 697.9,1050.5 693.6,1051.7 689.8,1053 686.3,1054.5 682.9,1056.1 679.5,1057.8 676,1059.8 672.7,1061.8 669.4,1064 666.1,1066.4 663,1068.9 659.9,1071.6 657,1074.5 654.1,1077.5 651.2,1080.6 648.3,1083.5 645.4,1086.5 642.6,1089.4 639.7,1092.4 636.8,1095.3 633.6,1098.2 630.2,1101.2 626.5,1104.2 622.8,1107.2 619,1110.1 615.2,1112.9 611.6,1115.6 607.9,1118.2 604.2,1120.8 600.6,1123.3 596.9,1125.8 593.3,1128.1 589.8,1130.2 586.3,1132.4 582.6,1134.8 578.5,1137.9 574.1,1141.6 569.4,1145.8 564.4,1150.4 559.2,1155.1 553.9,1159.9 548.3,1165 542.5,1170.5 536.5,1176 530.5,1181.1 524.5,1185.6 518.7,1189.3 513,1192.5 507.2,1195.2 501.3,1197.8 495.2,1200.3 488.7,1202.7 481.9,1204.8 475,1206.8 468.3,1209 462.1,1211.3 456.4,1214 451,1216.8 445.8,1219.7 441,1222.8 436.4,1226 432.3,1229.5 428.5,1233.3 425,1237.1 421.6,1240.9 418.1,1244.4 414.6,1247.6 411.2,1250.5 407.8,1253.4 404.1,1256.2 399.7,1259.1 394.5,1262.1 388.7,1265.1 382.6,1268.1 376.4,1271 370.3,1273.8 364.7,1276.3 359.3,1278.6 353.8,1280.8 347.8,1283 340.9,1285.2 333.2,1287.5 324.9,1289.9 316,1292.2 306.6,1294.4 296.9,1296.2 286.4,1297.6 275.1,1298.7 263.6,1299.6 252.3,1300.6 241.8,1301.7 232,1303.1 222.6,1304.6 213.7,1306.2 205.4,1307.7 197.7,1309.1 190.9,1310.3 184.7,1311.5 179.1,1312.7 174,1313.7 169.1,1314.6 164.4,1315.3 159.9,1315.9 155.8,1316.4 152.4,1316.8 150,1317.1 100,1600 1950,1600 1950,950"/>
<polygon fill="#0a84ff" points="713.7,980 713.8,981.5 714,983.6 714.3,986.1 714.8,988.7 715.5,991.4 716.3,994.2 717.1,997.2 718.2,1000.3 720,1003.2 722.9,1005.7 726.9,1007.5 732,1008.8 737.8,1009.9 743.9,1011.2 750,1013 756.3,1015.5 762.9,1018.4 769.7,1021.5 776.6,1024.6 783.4,1027.7 791.4,1030.9 800.6,1034.2 809.3,1037.5 815.8,1040.5 818.3,1043.2 815.8,1045.3 809.3,1047.1 800.6,1048.6 791.4,1050.1 783.4,1051.6 776.6,1053 769.7,1054.2 762.9,1055.4 756.3,1056.9 750,1058.9 744.2,1061.6 738.8,1064.8 733.6,1068.3 728.3,1071.9 722.8,1075.5 717.1,1079 711.2,1082.7 705.3,1086.4 699.4,1090.1 693.5,1093.8 687.7,1097.4 682.1,1101 676.4,1104.6 670.4,1108.3 664.1,1112.2 656.9,1116.3 649,1120.6 641.1,1125 633.6,1129.5 627.4,1134.2 622,1139.1 617.3,1144.2 613.3,1149.5 610.5,1154.7 609,1159.9 609.1,1165.2 610.8,1170.7 613.4,1176.1 616.6,1181.2 620,1185.6 623.8,1189.2 628.2,1192.1 633,1194.7 637.7,1197.3 642,1200.3 646.1,1203.8 650,1207.4 653.8,1211.2 657.3,1214.9 660.4,1218.7 662.8,1222.4 664.5,1226.2 666,1230 668.2,1233.6 671.4,1237 676.1,1240.2 681.8,1243.2 688.2,1246 694.6,1248.8 700.8,1251.7 706.8,1254.8 713,1258 719.1,1261.1 724.9,1263.9 730.2,1266.4 734.5,1268.1 738.1,1269.3 741.6,1270.3 745.3,1271.6 750,1273.8 756,1277.1 763,1281 770.2,1285.4 777.3,1290 783.4,1294.4 788.6,1298.7 793.2,1303.1 797.5,1307.5 801.5,1312 805.5,1316.4 809.3,1320.8 812.9,1325.2 816.4,1329.6 820,1334 823.8,1338.4 828,1342.9 832.4,1347.4 836.9,1351.9 841.4,1356.3 845.9,1360.5 850.2,1364.5 854.5,1368.4 858.8,1372.2 863.3,1375.7 867.9,1378.8 872.7,1381.6 877.7,1384 882.9,1386.2 888.2,1388.1 893.6,1389.8 899.2,1391.3 905.1,1392.4 911,1393.4 917,1394.3 923,1395.4 928.8,1396.5 934.7,1397.6 940.6,1398.8 946.5,1399.9 952.4,1400.9 958.4,1401.7 964.5,1402.6 970.6,1403.3 976.4,1403.9 981.7,1404.5 986.5,1404.8 990.8,1404.9 994.8,1404.9 998.5,1405.3 1001.9,1406.4 1005.1,1408 1008,1409.9 1010.6,1412.4 1012.9,1415.4 1014.8,1419.2 1016.2,1424 1017.3,1429.8 1017.9,1436.1 1018.3,1442.5 1018.4,1448.6 1018.2,1454.6 1017.7,1460.7 1016.9,1466.8 1015.9,1472.6 1014.8,1478 1013.5,1482.9 1011.9,1487.3 1010.3,1491.5 1008.7,1495.7 1007.4,1500 1006.3,1504.5 1005.3,1509 1004.5,1513.5 1004,1517.9 1003.8,1522 1004,1526.1 1004.7,1530 1005.6,1533.7 1006.6,1537.2 1007.4,1540.4 1008.2,1543.1 1009,1545.3 1009.8,1547.3 1010.5,1549.5 1011.1,1552.1 1011.6,1555.6 1012.1,1559.6 1012.4,1563.7 1012.7,1567.3 1012.9,1569.8 1950,1600 1950,950"/>
<polygon fill="#0a84ff" points="150,1361.2 152.3,1360.9 155.5,1360.5 159.3,1360 163.9,1359.4 169.1,1358.6 174.9,1357.8 181.4,1356.7 188.5,1355.6 196.4,1354.4 205.1,1353.1 214.9,1351.8 225.7,1350.4 237.2,1348.9 248.8,1347.4 260.2,1345.8 271.2,1344.1 282.2,1342.4 293.2,1340.6 304.2,1338.7 315.2,1336.6 326.3,1334.3 337.3,1331.7 348.3,1329.1 359.3,1326.4 370.3,1323.8 381.6,1321 393.2,1318.2 404.7,1315.4 415.6,1312.9 425.4,1310.9 433.9,1309.5 441.4,1308.5 448.3,1307.9 455.1,1307.5 462.1,1307.2 469.5,1307.1 477,1307.1 484.4,1307.3 491.7,1307.7 498.8,1308.3 505.9,1309.2 513.1,1310.2 520,1311.5 526.4,1312.9 531.9,1314.6 536.5,1316.4 540.4,1318.4 543.6,1320.6 546.3,1323 548.4,1325.6 549.6,1328.5 549.8,1331.7 549.6,1335.1 549.5,1338.6 550.2,1342.1 551.9,1345.6 554.2,1349.1 556.7,1352.8 559.1,1356.5 561.3,1360.5 563.1,1364.8 564.7,1369.4 566.2,1374 567.5,1378.5 568.6,1382.5 569.4,1385.9 570.1,1388.9 570.5,1391.7 570.6,1394.4 570.4,1397.2 569.5,1400.1 568,1403.1 566.3,1406 565.1,1408.9 564.9,1411.9 565.9,1414.9 567.6,1417.9 570,1421 572.8,1423.9 575.9,1426.6 579.5,1429.1 583.6,1431.4 588.1,1433.6 592.9,1435.7 598,1437.6 603.3,1439.4 608.8,1441 614.7,1442.6 620.9,1443.9 627.4,1444.9 634.5,1445.7 642.2,1446.2 650.1,1446.6 657.6,1446.7 664.1,1446.8 669.3,1446.5 673.6,1445.9 677.5,1445.3 681.5,1444.9 686.1,1444.9 691.6,1445.6 697.7,1446.6 703.9,1447.9 710,1449.2 715.5,1450.4 720.4,1451.4 724.9,1452.4 729.2,1453.3 733.3,1454.5 737.5,1455.9 741.6,1457.6 745.5,1459.4 749.3,1461.5 753.4,1464 757.7,1467 762.5,1470.6 767.6,1474.8 772.9,1479.4 778.2,1484.2 783.4,1489 788.7,1494 794.1,1499.2 799.4,1504.5 804.5,1509.7 809.1,1514.7 813.3,1519.4 817.2,1524.1 820.8,1528.6 824.2,1532.8 827.5,1536.7 830.8,1540.2 834,1543.3 837,1546.1 839.8,1549 842.2,1552.1 844.2,1555.8 846,1559.9 847.5,1563.9 848.7,1567.3 849.5,1569.8 100,1600"/>
<polygon fill="#1414ff" points="777.9,980 777.7,981.4 777.4,983.4 777.1,985.8 776.6,988.5 776.1,991.4 775,994.6 773.3,998.3 771.9,1002.1 771.3,1005.9 772.4,1009.4 775.7,1012.5 780.6,1015.3 786.4,1018.1 792.5,1020.9 798.1,1024.1 803.8,1027.6 810,1031.5 815.9,1035.4 820.8,1039.2 823.8,1042.4 824.6,1045.1 823.6,1047.4 821.5,1049.4 819,1051.4 816.5,1053.4 814.2,1055.6 811.7,1057.7 808.8,1059.8 805.6,1062 801.8,1064.5 797.2,1067 792,1069.7 786.4,1072.6 780.9,1075.7 776.1,1079.1 772.1,1083.1 768.6,1087.6 765.3,1092.3 761.8,1096.9 757.7,1101.2 752.8,1105.2 747.2,1109.1 741.5,1112.9 736.2,1116.4 732,1119.5 729.5,1122 728.3,1123.9 727.4,1125.7 725.9,1127.8 722.8,1130.6 716.9,1134.3 708.7,1138.7 700.2,1143.5 693.2,1148.2 689.8,1152.6 690.6,1156.5 694.5,1160.4 700.1,1164 706.3,1167.6 711.8,1170.9 716.8,1174.2 722.1,1177.4 727.5,1180.5 732.7,1183.2 737.5,1185.6 741.9,1187.3 746.1,1188.4 750,1189.3 753.9,1190.7 757.7,1193 761.4,1196.4 764.9,1200.7 768.3,1205.5 772,1210.4 776.1,1215 780.7,1219.5 785.7,1224 790.9,1228.5 796.3,1232.9 801.8,1237 807.4,1241 813.1,1244.8 819,1248.5 825,1252 831.2,1255.4 837.6,1258.7 844.3,1262 851.1,1265 857.8,1267.8 864.2,1270.1 870.3,1271.6 876.2,1272.3 882,1272.9 887.8,1273.9 893.6,1276 899.6,1279.5 905.7,1283.8 911.8,1288.7 917.6,1293.6 923,1298 927.9,1302 932.3,1305.7 936.5,1309.2 940.7,1312.8 945,1316.4 949.4,1320.2 953.8,1324.1 958.2,1328 962.6,1331.6 967,1334.8 971.3,1337.5 975.5,1339.9 979.7,1342 984.2,1343.9 989.1,1345.8 994.6,1347.5 1000.6,1349 1006.9,1350.4 1012.9,1351.7 1018.4,1353.1 1023.4,1354.5 1028,1355.7 1032.3,1357 1036.4,1358.5 1040.5,1360.5 1044.4,1362.8 1048.3,1365.5 1051.9,1368.4 1055.5,1371.6 1058.8,1375.2 1062,1379.1 1065,1383.4 1067.8,1388 1070.6,1392.7 1073.5,1397.2 1076.5,1401.6 1079.6,1406 1082.6,1410.4 1085.5,1414.8 1088.2,1419.2 1090.7,1423.6 1093.1,1428 1095.3,1432.4 1097.3,1436.8 1099.2,1441.3 1100.9,1445.7 1102.4,1450.1 1103.8,1454.5 1105.2,1458.9 1106.6,1463.3 1107.9,1467.9 1109,1472.6 1110.2,1477.3 1111.7,1481.6 1113.9,1485.3 1116.8,1488.3 1120.1,1490.9 1123.9,1493 1128,1494.8 1132.3,1496.3 1136.9,1497.7 1141.9,1498.9 1147.1,1499.7 1152.5,1500.1 1158,1500 1163.6,1499.3 1169.5,1498 1175.4,1496.4 1181.4,1494.5 1187.4,1492.7 1193.2,1490.5 1199.1,1488 1205,1485.4 1210.9,1483.2 1216.7,1481.6 1222.6,1480.8 1228.5,1480.3 1234.4,1480.3 1240.2,1480.8 1246.1,1481.6 1252.1,1483.1 1258.2,1485.3 1264.3,1487.7 1270.1,1490.3 1275.5,1492.7 1280.5,1495 1285.3,1497.4 1289.7,1499.8 1293.8,1501.9 1297.5,1503.7 1300.8,1504.6 1303.8,1504.8 1306.3,1504.9 1308.6,1505.6 1310.4,1507.4 1311.5,1510.6 1312,1515 1312.2,1520 1312.8,1524.9 1314.1,1529.4 1315.7,1533.6 1317.4,1537.8 1319.7,1541.8 1323.3,1545.2 1328.8,1547.7 1336.9,1549.3 1347.4,1550.2 1358.9,1550.4 1370.2,1550.2 1380.2,1549.6 1388.6,1548.5 1396.4,1546.8 1403.7,1544.7 1410.5,1542.5 1416.9,1540.4 1422.6,1538.3 1427.6,1536.1 1432.3,1533.9 1437.1,1531.6 1442.6,1529.4 1448.7,1527.1 1455.3,1524.6 1462.1,1522.2 1468.9,1520.1 1475.6,1518.4 1482.2,1517 1488.7,1516 1495.2,1515.3 1501.8,1514.8 1508.7,1514.7 1515.8,1515 1523.1,1515.6 1530.5,1516.5 1538,1517.5 1545.4,1518.4 1553,1519 1561,1519.7 1568.8,1520.3 1575.9,1521.1 1582.1,1522 1586.9,1523.3 1590.6,1524.7 1593.8,1526.3 1596.9,1527.9 1600.5,1529.4 1604.5,1531 1608.5,1532.7 1612.7,1534.3 1617.3,1535.7 1622.5,1536.7 1628.4,1537.3 1634.9,1537.4 1641.8,1537.3 1648.8,1537.1 1655.6,1536.7 1662.3,1536.3 1669.3,1535.7 1676.2,1535 1682.7,1534.1 1688.6,1533.1 1693.9,1531.9 1698.7,1530.7 1703.1,1529.4 1707.1,1527.7 1710.6,1525.7 1713.7,1523.4 1716.2,1520.9 1718.3,1518 1720.1,1514.8 1721.7,1511 1723,1506.6 1724,1501.7 1724.7,1496.4 1725.2,1490.9 1725.3,1485.3 1724.9,1479.8 1724,1474.2 1722.9,1468.4 1722,1462.3 1721.7,1455.9 1721.9,1448.9 1722.4,1441.3 1723.2,1433.5 1724.2,1426 1725.3,1419.2 1726.4,1413.3 1727.6,1407.8 1729,1402.7 1730.7,1398 1732.7,1393.5 1734.8,1389.4 1737,1385.6 1739.5,1382.2 1742.9,1378.7 1747.4,1375.2 1753.4,1371.5 1760.8,1367.8 1768.9,1364.1 1776.8,1360.5 1784.1,1356.8 1790.5,1353.1 1796.7,1349.5 1802.6,1345.8 1808.2,1342.1 1813.5,1338.4 1818.4,1334.9 1823.1,1331.4 1827.6,1328 1831.7,1324.2 1835.5,1320.1 1839,1315.2 1842.1,1309.8 1845,1304.2 1847.6,1298.9 1850.2,1294.4 1852.5,1290.7 1854.5,1287.7 1856.4,1285 1858.4,1282.4 1860.5,1279.7 1862.9,1276.5 1865.6,1273.1 1868.3,1269.8 1870.6,1267 1872.2,1265 1950,950"/>
<polygon fill="#1414ff" points="150,1404.5 152.5,1404.1 156,1403.4 160.1,1402.6 164.6,1401.8 169.1,1400.9 173.6,1399.8 178.4,1398.7 183.5,1397.5 188.7,1396.4 194.1,1395.4 199.4,1394.4 204.8,1393.6 210.4,1392.8 216.6,1392.2 223.4,1391.7 231.4,1391.4 240.2,1391.2 249.4,1391.2 258.7,1391.4 267.5,1391.7 275.9,1392.1 284.3,1392.7 292.4,1393.4 300.3,1394.3 307.9,1395.4 315.2,1396.6 322.3,1397.9 329.1,1399.5 335.4,1401.1 340.9,1402.7 345.7,1404.3 349.7,1406 353.2,1407.7 356.3,1409.7 359.3,1411.9 361.9,1414.4 363.9,1417.2 365.7,1420.2 367.8,1423.3 370.3,1426.6 373.4,1430 376.8,1433.6 380.5,1437.4 384.4,1441.2 388.7,1444.9 393.3,1448.7 398.3,1452.4 403.5,1456.2 408.9,1459.8 414.4,1463.3 419.9,1466.5 425.5,1469.5 431.3,1472.4 437.4,1475.2 443.8,1478 450.9,1480.8 458.6,1483.5 466.5,1486.2 474,1488.6 480.5,1490.8 485.8,1492.6 490.2,1494.1 494.1,1495.4 498.1,1496.7 502.5,1498.2 507.4,1500.1 512.5,1502.2 517.8,1504.4 523,1506.2 528.2,1507.4 533.4,1507.6 538.7,1507.1 543.9,1506.2 549,1505.6 553.9,1505.5 558.5,1506.2 562.8,1507.5 567,1508.9 571.4,1510.2 575.9,1511 580.9,1511.5 586,1511.9 591.2,1511.9 596.5,1511.7 601.7,1511 606.9,1509.8 612.3,1508.1 617.6,1506.1 622.7,1503.9 627.4,1501.8 631.4,1499.8 635.1,1497.6 638.5,1495.3 641.9,1493.1 645.7,1490.8 649.9,1488.4 654.3,1485.8 658.8,1483.3 663.3,1481.2 667.7,1479.8 672.1,1479.3 676.4,1479.4 680.7,1480 685.1,1480.8 689.8,1481.6 694.7,1482.4 700,1483.2 705.3,1484.2 710.5,1485.5 715.5,1487.2 720.3,1489.3 725.2,1491.9 729.8,1494.6 734,1497.4 737.5,1500 740,1502.2 741.7,1504 743,1505.9 744.5,1508.1 746.7,1511 749.9,1514.8 753.8,1519.2 757.8,1523.9 761.7,1528.7 765.1,1533.1 767.8,1537.1 770.3,1541 772.4,1544.8 774.4,1548.5 776.1,1552.1 777.6,1556 779,1560.2 780.1,1564.1 780.9,1567.4 781.6,1569.8 100,1600"/>
<polygon fill="#2600df" points="952.4,980 952.4,981.5 952.7,983.6 952.7,986.1 951.6,988.7 948.7,991.4 943.7,994.2 937.3,997.3 929.6,1000.5 921,1003.4 912,1005.7 902.2,1007.5 891.6,1008.9 880.3,1010 868.7,1010.7 856.9,1011.2 844.2,1011.3 830.6,1010.8 817,1010.2 804.6,1009.6 794.5,1009.4 786.4,1009.3 779.7,1009.3 774.6,1009.5 771.5,1010.1 770.6,1011.2 772.8,1013 777.8,1015.3 784.5,1018 791.7,1021 798.1,1024.1 804.4,1027.3 811.3,1030.8 818,1034.6 823.7,1038.4 827.5,1042.4 828.9,1046.7 828.6,1051.1 827.2,1055.7 825.3,1060.2 823.8,1064.5 822.2,1068.4 820.1,1072.2 818,1075.9 816.6,1079.4 816.5,1082.8 817.7,1086 819.9,1089.1 822.9,1092.1 826.7,1094.9 831.2,1097.5 836.7,1099.8 843.2,1101.8 850.4,1103.8 857.6,1105.9 864.2,1108.5 870.6,1111.7 877.1,1115.2 883.3,1118.9 889,1122.9 893.6,1126.9 897.1,1131.1 899.6,1135.4 901.5,1139.9 903.1,1144.4 904.6,1148.9 905.8,1153.2 906.5,1157.4 907.1,1161.6 908.2,1166.1 910.1,1170.9 913,1176.5 916.4,1182.5 920.3,1188.7 925,1194.8 930.3,1200.3 936.6,1205.3 943.8,1210 951.6,1214.4 959.4,1218.5 967,1222.4 974.4,1225.9 981.7,1229.3 989.1,1232.3 996.4,1234.9 1003.8,1237 1010.8,1238.6 1017.6,1239.6 1024.5,1240.2 1032,1240.5 1040.5,1240.7 1050.6,1240.6 1062.1,1240.1 1074,1239.5 1085.4,1239 1095.6,1238.9 1104.4,1239.2 1112.4,1239.7 1119.8,1240.4 1126.4,1241.4 1132.3,1242.5 1137.4,1243.9 1141.6,1245.6 1145.2,1247.4 1148.2,1249.4 1150.6,1251.7 1152.7,1254.4 1154.4,1257.4 1155.4,1260.6 1155.5,1263.7 1154.3,1266.4 1151.5,1268.5 1147.2,1270.2 1142.1,1271.8 1136.9,1273.6 1132.3,1276 1128,1279 1123.6,1282.2 1119.5,1285.8 1116.1,1289.9 1113.9,1294.4 1113.2,1299.6 1113.6,1305.5 1114.8,1311.7 1116.3,1317.9 1117.6,1323.8 1118.7,1329.1 1119.9,1334.3 1121.3,1339.4 1122.9,1344.4 1124.9,1349.5 1127.5,1354.5 1130.5,1359.6 1133.7,1364.6 1136.8,1369.8 1139.6,1375.2 1141.8,1381 1143.4,1387.4 1145.1,1393.7 1147.3,1399.5 1150.6,1404.5 1155.1,1408.6 1160.4,1412 1166.3,1414.8 1172.9,1417.2 1180,1419.2 1188,1420.5 1196.9,1421.1 1206.3,1421.4 1215.5,1421.9 1224.1,1422.9 1232,1424.6 1239.6,1426.6 1247,1428.9 1254,1431.4 1260.8,1433.9 1267.6,1436.8 1274.4,1440.1 1280.8,1443.3 1286.2,1446.3 1290.2,1448.6 1291.9,1449.9 1291.8,1450.3 1290.9,1450.5 1290.6,1451 1292,1452.3 1295.6,1454.4 1300.6,1457.2 1306.3,1460.3 1312.2,1463.6 1317.7,1467 1323.2,1470.2 1329.1,1473.5 1334.7,1477 1339.7,1480.9 1343.4,1485.3 1345.5,1490.5 1346.3,1496.5 1346.4,1502.7 1346.5,1508.9 1347.1,1514.7 1348.1,1520.4 1348.9,1526.3 1350,1531.9 1351.8,1536.7 1354.5,1540.4 1358.8,1543 1364.5,1544.7 1370.6,1545.5 1376.1,1545.3 1380.2,1544.1 1382.5,1541.2 1383.7,1536.9 1384.2,1531.8 1384.2,1526.6 1383.8,1522 1382.6,1517.9 1380.3,1513.7 1377.8,1509.8 1376.3,1506.4 1376.5,1503.7 1378.9,1502.1 1382.8,1501.3 1387.8,1501 1393.2,1500.7 1398.5,1500 1403.9,1498.8 1409.6,1497.3 1415.5,1495.8 1421.7,1494.2 1427.9,1492.7 1434.3,1491.2 1441,1489.7 1447.8,1488.3 1454.5,1486.8 1460.9,1485.3 1466.9,1483.8 1472.6,1482.2 1478.2,1480.6 1484,1479.2 1490.3,1478 1497.2,1477 1504.5,1476.2 1512,1475.6 1519.6,1475 1527,1474.3 1534.4,1473.5 1541.7,1472.7 1549.1,1471.8 1556.4,1471.1 1563.8,1470.6 1571.2,1470.6 1578.8,1470.9 1586.3,1471.2 1593.6,1471.3 1600.5,1470.6 1606.9,1469.2 1613.1,1467.4 1619,1465.1 1624.6,1462.5 1629.9,1459.6 1634.9,1456.4 1639.7,1452.8 1644.2,1449 1648.3,1445 1651.9,1441.3 1654.9,1437.6 1657.3,1433.9 1659.3,1430.2 1661.1,1426.6 1662.9,1422.9 1664.6,1419.3 1666.1,1415.7 1667.5,1412.1 1668.8,1408.4 1670.2,1404.5 1671.5,1400.2 1672.7,1395.5 1673.9,1390.7 1675.4,1386.3 1677.6,1382.5 1680.3,1379.6 1683.4,1377.3 1687,1375.4 1691.2,1373.5 1695.9,1371.5 1701.6,1369.3 1707.9,1367.3 1714.8,1365.1 1721.9,1362.9 1729,1360.5 1736.1,1357.8 1743.4,1355 1750.9,1352.1 1758.3,1349 1765.7,1345.8 1773.2,1342.5 1780.9,1339.1 1788.5,1335.5 1795.8,1331.6 1802.4,1327.4 1808.5,1322.7 1814,1317.5 1819.2,1312.1 1823.9,1306.7 1828.1,1301.7 1831.8,1297 1835,1292.3 1837.7,1287.8 1840.3,1283.6 1842.8,1279.7 1845.3,1276.4 1847.6,1273.6 1849.7,1270.9 1851.8,1268.2 1853.8,1265 1855.8,1261 1857.6,1256.5 1859.4,1252 1861.4,1247.8 1863.8,1244.4 1866.8,1241.9 1870.4,1240.1 1874.1,1238.8 1877.3,1237.8 1879.5,1237 1950,950"/>
<polygon fill="#1414ff" points="976.2,1068.1 978.8,1065 983.6,1061.7 990,1058.4 997,1055.1 1003.8,1051.6 1010.5,1047.9 1017.8,1043.9 1025.3,1039.9 1033,1036.2 1040.5,1033.2 1047.6,1031 1054.6,1029.3 1061.7,1028 1069.1,1027 1077.2,1025.9 1086.4,1024.7 1096.6,1023.5 1106.9,1022.6 1116.6,1022.1 1124.9,1022.2 1131.3,1023 1136.3,1024.4 1140.6,1026.2 1145.1,1028.5 1150.6,1031.4 1157.4,1035 1164.9,1039.3 1172.7,1044 1180.3,1048.8 1187.4,1053.4 1194.1,1058 1200.9,1062.8 1207.2,1067.5 1212.6,1071.8 1216.7,1075.5 1219.4,1078.4 1220.9,1080.7 1221.5,1082.6 1221.3,1084.5 1220.4,1086.5 1219,1088.7 1216.9,1090.9 1214.1,1093.1 1210.4,1095.3 1205.7,1097.5 1199.8,1099.7 1192.6,1102 1184.7,1104.2 1176.7,1106.4 1169,1108.5 1161.7,1110.6 1154.3,1112.7 1147,1114.6 1139.6,1116.4 1132.3,1117.7 1124.9,1118.7 1117.6,1119.4 1110.2,1119.8 1102.9,1119.9 1095.6,1119.5 1088.2,1118.8 1080.9,1117.6 1073.5,1116.1 1066.2,1114.3 1058.8,1112.2 1051.4,1109.7 1043.8,1106.8 1036.3,1103.7 1029,1100.6 1022.1,1097.5 1015.6,1094.6 1009.2,1091.6 1003.2,1088.7 997.7,1085.8 992.7,1082.8 987.9,1079.9 983.1,1077 979,1074.1 976.5,1071.2"/>
<polygon fill="#2600df" points="256.5,1569.8 257.4,1567.3 258.5,1563.9 260,1559.9 261.8,1555.8 263.8,1552.1 266.2,1549 269,1546 272,1543 275.2,1540 278.5,1536.7 281.9,1533.2 285.4,1529.3 289.1,1525.5 292.9,1521.7 296.9,1518.4 300.9,1515.4 305.1,1512.6 309.4,1510 314,1507.6 318.9,1505.5 324.3,1503.6 330.1,1501.9 336.2,1500.4 342.3,1499.2 348.3,1498.2 354.2,1497.3 360,1496.6 365.9,1496.1 371.8,1496 377.7,1496.3 383.4,1497.2 389.1,1498.4 394.8,1500 400.7,1501.8 407,1503.7 413.9,1505.6 421.2,1507.7 428.7,1510 436.3,1512.3 443.8,1514.7 451.1,1517.2 458.4,1519.9 465.8,1522.6 473.1,1525.2 480.5,1527.5 487.8,1529.7 495.2,1531.7 502.5,1533.6 509.9,1535.3 517.2,1536.7 524.5,1537.9 531.9,1538.9 539.2,1539.6 546.6,1540.1 553.9,1540.4 561.3,1540.4 568.6,1540.1 575.9,1539.7 583.3,1539.1 590.6,1538.6 598,1538 605.3,1537.4 612.7,1536.7 620,1535.9 627.4,1534.9 635,1533.5 642.9,1531.8 650.7,1530 657.9,1528.5 664.1,1527.5 669,1527.2 672.9,1527.2 676.2,1527.5 679.3,1528.3 682.4,1529.4 685.7,1531 688.9,1533.1 692,1535.5 694.7,1538 697.1,1540.4 699.1,1542.6 700.8,1544.8 702.1,1547 703.4,1549.4 704.5,1552.1 705.5,1555.6 706.4,1559.6 707.1,1563.7 707.7,1567.3 708.1,1569.8"/>
<polygon fill="#00d2ff" points="1784.1,1569.8 1784.4,1567.5 1784.8,1564.2 1785.3,1560.4 1786.2,1556.3 1787.7,1552.1 1790,1548 1793,1543.6 1796.3,1538.9 1799.6,1534.2 1802.4,1529.4 1805,1524.5 1807.4,1519.7 1809.6,1514.6 1811.7,1509.3 1813.5,1503.7 1815,1497.4 1816.2,1490.6 1817.3,1483.7 1818.2,1476.9 1819,1470.6 1819.4,1464.7 1819.3,1458.9 1819.3,1453.5 1819.7,1448.8 1820.8,1444.9 1822.2,1442.2 1823.6,1440.5 1825.8,1439.4 1829.5,1438.5 1835.5,1437.6 1845.4,1436.6 1858.6,1435.7 1872.8,1434.9 1885.5,1434.4 1894.2,1433.9 1950,1600"/>
<polygon fill="#a0fafa" points="1839.2,1569.8 1842.8,1552.1 1860.5,1531.2 1894.2,1522 1894.2,1569.8"/>
<polygon fill="#ffffff" points="1894.2,1338.4 1860.5,1343.9 1842.8,1351.3 1828.1,1358.6 1813.5,1371.5 1798.8,1378.8 1784.1,1380.7 1784.1,1404.5 1798.8,1408.2 1798.8,1448.6 1820.8,1448.6 1828.1,1439.4 1860.5,1435.7 1894.2,1435.7"/>
<polygon fill="#ffffff" points="979.9,1408.2 1009.3,1408.2 1009.3,1435.7 979.9,1435.7"/>
<polygon fill="#0a84ff" points="994.6,1400.9 1003.8,1391.7 1012.9,1399 1008.2,1408.9 990.9,1408.9"/>
<polygon fill="none" stroke="#252525" stroke-width="2.8" stroke-linejoin="round" points="836.7,1509.2 860.6,1517.6 897.3,1507.4 910.1,1492.7 930.3,1481.6 952.4,1478 978.1,1461.5 996.4,1441.3 1003.8,1419.2 1012.9,1399 1003.8,1391.7 994.6,1400.9 989.1,1411.9 974.4,1430.2 952.4,1450.4 926.6,1467 900.9,1481.6 882.6,1501.8 856.9,1505.5"/>
<polyline fill="none" stroke="#252525" stroke-width="2.8" stroke-linejoin="round" points="1894.2,1334.8 1860.5,1340.3 1835.5,1353.1 1802.4,1375.2 1776.7,1391.7 1727.2,1415.6 1732.7,1422.9 1762,1426.6 1773.1,1433.9 1769.4,1446.8 1784.1,1437.6 1795.1,1439.4 1787.7,1454.1 1798.8,1454.1 1820.8,1443.1 1842.8,1435.7 1860.5,1437.6 1894.2,1437.6"/>
<polygon fill="none" stroke="#252525" stroke-width="2.8" stroke-linejoin="round" points="1785.9,1415.6 1796.9,1408.2 1807.9,1411.9 1798.8,1422.9"/>
<path d="M1573.3 1030.7h0M1595.8 1030.7h0M1618.2 1030.7h0M1640.6 1030.7h0M1663.1 1030.7h0M1685.5 1030.7h0M1707.9 1030.7h0M1730.4 1030.7h0M1752.8 1030.7h0M1775.2 1030.7h0M1797.6 1030.7h0M1820.1 1030.7h0M1842.5 1030.7h0M1864.9 1030.7h0M1517.3 1041.9h0M1539.7 1041.9h0M1562.1 1041.9h0M1584.6 1041.9h0M1607.0 1041.9h0M1629.4 1041.9h0M1651.8 1041.9h0M1674.3 1041.9h0M1696.7 1041.9h0M1719.1 1041.9h0M1741.6 1041.9h0M1764.0 1041.9h0M1786.4 1041.9h0M1808.9 1041.9h0M1831.3 1041.9h0M1853.7 1041.9h0M1483.6 1053.1h0M1506.0 1053.1h0M1528.5 1053.1h0M1550.9 1053.1h0M1573.3 1053.1h0M1595.8 1053.1h0M1618.2 1053.1h0M1640.6 1053.1h0M1663.1 1053.1h0M1685.5 1053.1h0M1707.9 1053.1h0M1730.4 1053.1h0M1752.8 1053.1h0M1775.2 1053.1h0M1797.6 1053.1h0M1820.1 1053.1h0M1842.5 1053.1h0M1864.9 1053.1h0M1450.0 1064.3h0M1472.4 1064.3h0M1494.8 1064.3h0M1517.3 1064.3h0M1539.7 1064.3h0M1562.1 1064.3h0M1584.6 1064.3h0M1607.0 1064.3h0M1629.4 1064.3h0M1651.8 1064.3h0M1674.3 1064.3h0M1696.7 1064.3h0M1719.1 1064.3h0M1741.6 1064.3h0M1764.0 1064.3h0M1786.4 1064.3h0M1808.9 1064.3h0M1831.3 1064.3h0M1853.7 1064.3h0M1416.3 1075.5h0M1438.8 1075.5h0M1461.2 1075.5h0M1483.6 1075.5h0M1506.0 1075.5h0M1528.5 1075.5h0M1550.9 1075.5h0M1573.3 1075.5h0M1595.8 1075.5h0M1618.2 1075.5h0M1640.6 1075.5h0M1663.1 1075.5h0M1685.5 1075.5h0M1707.9 1075.5h0M1730.4 1075.5h0M1752.8 1075.5h0M1775.2 1075.5h0M1797.6 1075.5h0M1820.1 1075.5h0M1842.5 1075.5h0M1864.9 1075.5h0M1360.3 1086.7h0M1382.7 1086.7h0M1405.1 1086.7h0M1427.5 1086.7h0M1450.0 1086.7h0M1472.4 1086.7h0M1494.8 1086.7h0M1517.3 1086.7h0M1539.7 1086.7h0M1562.1 1086.7h0M1584.6 1086.7h0M1607.0 1086.7h0M1629.4 1086.7h0M1651.8 1086.7h0M1674.3 1086.7h0M1696.7 1086.7h0M1719.1 1086.7h0M1741.6 1086.7h0M1764.0 1086.7h0M1786.4 1086.7h0M1808.9 1086.7h0M1831.3 1086.7h0M1853.7 1086.7h0M1326.6 1097.9h0M1349.0 1097.9h0M1371.5 1097.9h0M1393.9 1097.9h0M1416.3 1097.9h0M1438.8 1097.9h0M1461.2 1097.9h0M1483.6 1097.9h0M1506.0 1097.9h0M1528.5 1097.9h0M1550.9 1097.9h0M1573.3 1097.9h0M1595.8 1097.9h0M1618.2 1097.9h0M1640.6 1097.9h0M1663.1 1097.9h0M1685.5 1097.9h0M1707.9 1097.9h0M1730.4 1097.9h0M1752.8 1097.9h0M1775.2 1097.9h0M1797.6 1097.9h0M1820.1 1097.9h0M1842.5 1097.9h0M1864.9 1097.9h0M1315.4 1109.1h0M1337.8 1109.1h0M1360.3 1109.1h0M1382.7 1109.1h0M1405.1 1109.1h0M1427.5 1109.1h0M1450.0 1109.1h0M1472.4 1109.1h0M1494.8 1109.1h0M1517.3 1109.1h0M1539.7 1109.1h0M1562.1 1109.1h0M1584.6 1109.1h0M1607.0 1109.1h0M1629.4 1109.1h0M1651.8 1109.1h0M1674.3 1109.1h0M1696.7 1109.1h0M1719.1 1109.1h0M1741.6 1109.1h0M1764.0 1109.1h0M1786.4 1109.1h0M1808.9 1109.1h0M1831.3 1109.1h0M1853.7 1109.1h0M1304.2 1120.2h0M1326.6 1120.2h0M1349.0 1120.2h0M1371.5 1120.2h0M1393.9 1120.2h0M1416.3 1120.2h0M1438.8 1120.2h0M1461.2 1120.2h0M1483.6 1120.2h0M1506.0 1120.2h0M1528.5 1120.2h0M1550.9 1120.2h0M1573.3 1120.2h0M1595.8 1120.2h0M1618.2 1120.2h0M1640.6 1120.2h0M1663.1 1120.2h0M1685.5 1120.2h0M1707.9 1120.2h0M1730.4 1120.2h0M1752.8 1120.2h0M1775.2 1120.2h0M1797.6 1120.2h0M1820.1 1120.2h0M1842.5 1120.2h0M1864.9 1120.2h0M1270.5 1131.4h0M1293.0 1131.4h0M1315.4 1131.4h0M1337.8 1131.4h0M1360.3 1131.4h0M1382.7 1131.4h0M1405.1 1131.4h0M1427.5 1131.4h0M1450.0 1131.4h0M1472.4 1131.4h0M1494.8 1131.4h0M1517.3 1131.4h0M1539.7 1131.4h0M1562.1 1131.4h0M1584.6 1131.4h0M1607.0 1131.4h0M1629.4 1131.4h0M1651.8 1131.4h0M1674.3 1131.4h0M1696.7 1131.4h0M1719.1 1131.4h0M1741.6 1131.4h0M1764.0 1131.4h0M1786.4 1131.4h0M1808.9 1131.4h0M1831.3 1131.4h0M1853.7 1131.4h0M1259.3 1142.6h0M1281.8 1142.6h0M1304.2 1142.6h0M1326.6 1142.6h0M1349.0 1142.6h0M1371.5 1142.6h0M1393.9 1142.6h0M1416.3 1142.6h0M1438.8 1142.6h0M1461.2 1142.6h0M1483.6 1142.6h0M1506.0 1142.6h0M1528.5 1142.6h0M1550.9 1142.6h0M1573.3 1142.6h0M1595.8 1142.6h0M1618.2 1142.6h0M1640.6 1142.6h0M1663.1 1142.6h0M1685.5 1142.6h0M1707.9 1142.6h0M1730.4 1142.6h0M1752.8 1142.6h0M1775.2 1142.6h0M1797.6 1142.6h0M1820.1 1142.6h0M1842.5 1142.6h0M1864.9 1142.6h0M1225.7 1153.8h0M1248.1 1153.8h0M1270.5 1153.8h0M1293.0 1153.8h0M1315.4 1153.8h0M1337.8 1153.8h0M1360.3 1153.8h0M1382.7 1153.8h0M1405.1 1153.8h0M1427.5 1153.8h0M1450.0 1153.8h0M1472.4 1153.8h0M1494.8 1153.8h0M1517.3 1153.8h0M1539.7 1153.8h0M1562.1 1153.8h0M1584.6 1153.8h0M1607.0 1153.8h0M1629.4 1153.8h0M1651.8 1153.8h0M1674.3 1153.8h0M1696.7 1153.8h0M1719.1 1153.8h0M1741.6 1153.8h0M1764.0 1153.8h0M1786.4 1153.8h0M1808.9 1153.8h0M1831.3 1153.8h0M1853.7 1153.8h0M1214.5 1165.0h0M1236.9 1165.0h0M1259.3 1165.0h0M1281.8 1165.0h0M1304.2 1165.0h0M1326.6 1165.0h0M1349.0 1165.0h0M1371.5 1165.0h0M1393.9 1165.0h0M1416.3 1165.0h0M1438.8 1165.0h0M1461.2 1165.0h0M1483.6 1165.0h0M1506.0 1165.0h0M1528.5 1165.0h0M1550.9 1165.0h0M1573.3 1165.0h0M1595.8 1165.0h0M1618.2 1165.0h0M1640.6 1165.0h0M1663.1 1165.0h0M1685.5 1165.0h0M1707.9 1165.0h0M1730.4 1165.0h0M1752.8 1165.0h0M1775.2 1165.0h0M1797.6 1165.0h0M1820.1 1165.0h0M1842.5 1165.0h0M1864.9 1165.0h0M1203.2 1176.2h0M1225.7 1176.2h0M1248.1 1176.2h0M1270.5 1176.2h0M1293.0 1176.2h0M1315.4 1176.2h0M1337.8 1176.2h0M1360.3 1176.2h0M1382.7 1176.2h0M1405.1 1176.2h0M1427.5 1176.2h0M1450.0 1176.2h0M1472.4 1176.2h0M1494.8 1176.2h0M1517.3 1176.2h0M1539.7 1176.2h0M1562.1 1176.2h0M1584.6 1176.2h0M1607.0 1176.2h0M1629.4 1176.2h0M1651.8 1176.2h0M1674.3 1176.2h0M1696.7 1176.2h0M1719.1 1176.2h0M1741.6 1176.2h0M1764.0 1176.2h0M1786.4 1176.2h0M1808.9 1176.2h0M1831.3 1176.2h0M1853.7 1176.2h0M1192.0 1187.4h0M1214.5 1187.4h0M1236.9 1187.4h0M1259.3 1187.4h0M1281.8 1187.4h0M1304.2 1187.4h0M1326.6 1187.4h0M1349.0 1187.4h0M1371.5 1187.4h0M1393.9 1187.4h0M1416.3 1187.4h0M1438.8 1187.4h0M1461.2 1187.4h0M1483.6 1187.4h0M1506.0 1187.4h0M1528.5 1187.4h0M1550.9 1187.4h0M1573.3 1187.4h0M1595.8 1187.4h0M1618.2 1187.4h0M1640.6 1187.4h0M1663.1 1187.4h0M1685.5 1187.4h0M1707.9 1187.4h0M1730.4 1187.4h0M1752.8 1187.4h0M1775.2 1187.4h0M1797.6 1187.4h0M1820.1 1187.4h0M1842.5 1187.4h0M1864.9 1187.4h0M1180.8 1198.6h0M1203.2 1198.6h0M1225.7 1198.6h0M1248.1 1198.6h0M1270.5 1198.6h0M1293.0 1198.6h0M1315.4 1198.6h0M1337.8 1198.6h0M1360.3 1198.6h0M1382.7 1198.6h0M1405.1 1198.6h0M1427.5 1198.6h0M1450.0 1198.6h0M1472.4 1198.6h0M1494.8 1198.6h0M1517.3 1198.6h0M1539.7 1198.6h0M1562.1 1198.6h0M1584.6 1198.6h0M1607.0 1198.6h0M1629.4 1198.6h0M1651.8 1198.6h0M1674.3 1198.6h0M1696.7 1198.6h0M1719.1 1198.6h0M1741.6 1198.6h0M1764.0 1198.6h0M1786.4 1198.6h0M1808.9 1198.6h0M1831.3 1198.6h0M1853.7 1198.6h0M1192.0 1209.8h0M1214.5 1209.8h0M1236.9 1209.8h0M1259.3 1209.8h0M1281.8 1209.8h0M1304.2 1209.8h0M1326.6 1209.8h0M1349.0 1209.8h0M1371.5 1209.8h0M1393.9 1209.8h0M1416.3 1209.8h0M1438.8 1209.8h0M1461.2 1209.8h0M1483.6 1209.8h0M1506.0 1209.8h0M1528.5 1209.8h0M1550.9 1209.8h0M1573.3 1209.8h0M1595.8 1209.8h0M1618.2 1209.8h0M1640.6 1209.8h0M1663.1 1209.8h0M1685.5 1209.8h0M1707.9 1209.8h0M1730.4 1209.8h0M1752.8 1209.8h0M1775.2 1209.8h0M1797.6 1209.8h0M1820.1 1209.8h0M1842.5 1209.8h0M1864.9 1209.8h0M1203.2 1221.0h0M1225.7 1221.0h0M1248.1 1221.0h0M1270.5 1221.0h0M1293.0 1221.0h0M1315.4 1221.0h0M1337.8 1221.0h0M1360.3 1221.0h0M1382.7 1221.0h0M1405.1 1221.0h0M1427.5 1221.0h0M1450.0 1221.0h0M1472.4 1221.0h0M1494.8 1221.0h0M1517.3 1221.0h0M1539.7 1221.0h0M1562.1 1221.0h0M1584.6 1221.0h0M1607.0 1221.0h0M1629.4 1221.0h0M1651.8 1221.0h0M1674.3 1221.0h0M1696.7 1221.0h0M1719.1 1221.0h0M1741.6 1221.0h0M1764.0 1221.0h0M1786.4 1221.0h0M1808.9 1221.0h0M1831.3 1221.0h0M1853.7 1221.0h0M1192.0 1232.2h0M1214.5 1232.2h0M1236.9 1232.2h0M1259.3 1232.2h0M1281.8 1232.2h0M1304.2 1232.2h0M1326.6 1232.2h0M1349.0 1232.2h0M1371.5 1232.2h0M1393.9 1232.2h0M1416.3 1232.2h0M1438.8 1232.2h0M1461.2 1232.2h0M1483.6 1232.2h0M1506.0 1232.2h0M1528.5 1232.2h0M1550.9 1232.2h0M1573.3 1232.2h0M1595.8 1232.2h0M1618.2 1232.2h0M1640.6 1232.2h0M1663.1 1232.2h0M1685.5 1232.2h0M1707.9 1232.2h0M1730.4 1232.2h0M1752.8 1232.2h0M1775.2 1232.2h0M1797.6 1232.2h0M1820.1 1232.2h0M1842.5 1232.2h0M1864.9 1232.2h0M1180.8 1243.4h0M1203.2 1243.4h0M1225.7 1243.4h0M1248.1 1243.4h0M1270.5 1243.4h0M1293.0 1243.4h0M1315.4 1243.4h0M1337.8 1243.4h0M1360.3 1243.4h0M1382.7 1243.4h0M1405.1 1243.4h0M1427.5 1243.4h0M1450.0 1243.4h0M1472.4 1243.4h0M1494.8 1243.4h0M1517.3 1243.4h0M1539.7 1243.4h0M1562.1 1243.4h0M1584.6 1243.4h0M1607.0 1243.4h0M1629.4 1243.4h0M1651.8 1243.4h0M1674.3 1243.4h0M1696.7 1243.4h0M1719.1 1243.4h0M1741.6 1243.4h0M1764.0 1243.4h0M1786.4 1243.4h0M1808.9 1243.4h0M1831.3 1243.4h0M1853.7 1243.4h0M1169.6 1254.6h0M1192.0 1254.6h0M1214.5 1254.6h0M1236.9 1254.6h0M1259.3 1254.6h0M1281.8 1254.6h0M1304.2 1254.6h0M1326.6 1254.6h0M1349.0 1254.6h0M1371.5 1254.6h0M1393.9 1254.6h0M1416.3 1254.6h0M1438.8 1254.6h0M1461.2 1254.6h0M1483.6 1254.6h0M1506.0 1254.6h0M1528.5 1254.6h0M1550.9 1254.6h0M1573.3 1254.6h0M1595.8 1254.6h0M1618.2 1254.6h0M1640.6 1254.6h0M1663.1 1254.6h0M1685.5 1254.6h0M1707.9 1254.6h0M1730.4 1254.6h0M1752.8 1254.6h0M1775.2 1254.6h0M1797.6 1254.6h0M1820.1 1254.6h0M1842.5 1254.6h0M1864.9 1254.6h0M1158.4 1265.8h0M1180.8 1265.8h0M1203.2 1265.8h0M1225.7 1265.8h0M1248.1 1265.8h0M1270.5 1265.8h0M1293.0 1265.8h0M1315.4 1265.8h0M1337.8 1265.8h0M1360.3 1265.8h0M1382.7 1265.8h0M1405.1 1265.8h0M1427.5 1265.8h0M1450.0 1265.8h0M1472.4 1265.8h0M1494.8 1265.8h0M1517.3 1265.8h0M1539.7 1265.8h0M1562.1 1265.8h0M1584.6 1265.8h0M1607.0 1265.8h0M1629.4 1265.8h0M1651.8 1265.8h0M1674.3 1265.8h0M1696.7 1265.8h0M1719.1 1265.8h0M1741.6 1265.8h0M1764.0 1265.8h0M1786.4 1265.8h0M1808.9 1265.8h0M1831.3 1265.8h0M1853.7 1265.8h0M1147.2 1276.9h0M1169.6 1276.9h0M1192.0 1276.9h0M1214.5 1276.9h0M1236.9 1276.9h0M1259.3 1276.9h0M1281.8 1276.9h0M1304.2 1276.9h0M1326.6 1276.9h0M1349.0 1276.9h0M1371.5 1276.9h0M1393.9 1276.9h0M1416.3 1276.9h0M1438.8 1276.9h0M1461.2 1276.9h0M1483.6 1276.9h0M1506.0 1276.9h0M1528.5 1276.9h0M1550.9 1276.9h0M1573.3 1276.9h0M1595.8 1276.9h0M1618.2 1276.9h0M1640.6 1276.9h0M1663.1 1276.9h0M1685.5 1276.9h0M1707.9 1276.9h0M1730.4 1276.9h0M1752.8 1276.9h0M1775.2 1276.9h0M1797.6 1276.9h0M1820.1 1276.9h0M1842.5 1276.9h0M1113.5 1288.1h0M1136.0 1288.1h0M1158.4 1288.1h0M1180.8 1288.1h0M1203.2 1288.1h0M1225.7 1288.1h0M1248.1 1288.1h0M1270.5 1288.1h0M1293.0 1288.1h0M1315.4 1288.1h0M1337.8 1288.1h0M1360.3 1288.1h0M1382.7 1288.1h0M1405.1 1288.1h0M1427.5 1288.1h0M1450.0 1288.1h0M1472.4 1288.1h0M1494.8 1288.1h0M1517.3 1288.1h0M1539.7 1288.1h0M1562.1 1288.1h0M1584.6 1288.1h0M1607.0 1288.1h0M1629.4 1288.1h0M1651.8 1288.1h0M1674.3 1288.1h0M1696.7 1288.1h0M1719.1 1288.1h0M1741.6 1288.1h0M1764.0 1288.1h0M1786.4 1288.1h0M1808.9 1288.1h0M1831.3 1288.1h0M1102.3 1299.3h0M1124.7 1299.3h0M1147.2 1299.3h0M1169.6 1299.3h0M1192.0 1299.3h0M1214.5 1299.3h0M1236.9 1299.3h0M1259.3 1299.3h0M1281.8 1299.3h0M1304.2 1299.3h0M1326.6 1299.3h0M1349.0 1299.3h0M1371.5 1299.3h0M1393.9 1299.3h0M1416.3 1299.3h0M1438.8 1299.3h0M1461.2 1299.3h0M1483.6 1299.3h0M1506.0 1299.3h0M1528.5 1299.3h0M1550.9 1299.3h0M1573.3 1299.3h0M1595.8 1299.3h0M1618.2 1299.3h0M1640.6 1299.3h0M1663.1 1299.3h0M1685.5 1299.3h0M1707.9 1299.3h0M1730.4 1299.3h0M1752.8 1299.3h0M1775.2 1299.3h0M1797.6 1299.3h0M1820.1 1299.3h0M1068.7 1310.5h0M1091.1 1310.5h0M1113.5 1310.5h0M1136.0 1310.5h0M1158.4 1310.5h0M1180.8 1310.5h0M1203.2 1310.5h0M1225.7 1310.5h0M1248.1 1310.5h0M1270.5 1310.5h0M1293.0 1310.5h0M1315.4 1310.5h0M1337.8 1310.5h0M1360.3 1310.5h0M1382.7 1310.5h0M1405.1 1310.5h0M1427.5 1310.5h0M1450.0 1310.5h0M1472.4 1310.5h0M1494.8 1310.5h0M1517.3 1310.5h0M1539.7 1310.5h0M1562.1 1310.5h0M1584.6 1310.5h0M1607.0 1310.5h0M1629.4 1310.5h0M1651.8 1310.5h0M1674.3 1310.5h0M1696.7 1310.5h0M1719.1 1310.5h0M1741.6 1310.5h0M1764.0 1310.5h0M1786.4 1310.5h0M1808.9 1310.5h0M1831.3 1310.5h0M1079.9 1321.7h0M1102.3 1321.7h0M1124.7 1321.7h0M1147.2 1321.7h0M1169.6 1321.7h0M1192.0 1321.7h0M1214.5 1321.7h0M1236.9 1321.7h0M1259.3 1321.7h0M1281.8 1321.7h0M1304.2 1321.7h0M1326.6 1321.7h0M1349.0 1321.7h0M1371.5 1321.7h0M1393.9 1321.7h0M1416.3 1321.7h0M1438.8 1321.7h0M1461.2 1321.7h0M1483.6 1321.7h0M1506.0 1321.7h0M1528.5 1321.7h0M1550.9 1321.7h0M1573.3 1321.7h0M1595.8 1321.7h0M1618.2 1321.7h0M1640.6 1321.7h0M1663.1 1321.7h0M1685.5 1321.7h0M1707.9 1321.7h0M1730.4 1321.7h0M1752.8 1321.7h0M1775.2 1321.7h0M1797.6 1321.7h0M1820.1 1321.7h0M1068.7 1332.9h0M1091.1 1332.9h0M1113.5 1332.9h0M1136.0 1332.9h0M1158.4 1332.9h0M1180.8 1332.9h0M1203.2 1332.9h0M1225.7 1332.9h0M1248.1 1332.9h0M1270.5 1332.9h0M1293.0 1332.9h0M1315.4 1332.9h0M1337.8 1332.9h0M1360.3 1332.9h0M1382.7 1332.9h0M1405.1 1332.9h0M1427.5 1332.9h0M1450.0 1332.9h0M1472.4 1332.9h0M1494.8 1332.9h0M1517.3 1332.9h0M1539.7 1332.9h0M1562.1 1332.9h0M1584.6 1332.9h0M1607.0 1332.9h0M1629.4 1332.9h0M1651.8 1332.9h0M1674.3 1332.9h0M1696.7 1332.9h0M1719.1 1332.9h0M1741.6 1332.9h0M1764.0 1332.9h0M1786.4 1332.9h0M1808.9 1332.9h0M1079.9 1344.1h0M1102.3 1344.1h0M1124.7 1344.1h0M1147.2 1344.1h0M1169.6 1344.1h0M1192.0 1344.1h0M1214.5 1344.1h0M1236.9 1344.1h0M1259.3 1344.1h0M1281.8 1344.1h0M1304.2 1344.1h0M1326.6 1344.1h0M1349.0 1344.1h0M1371.5 1344.1h0M1393.9 1344.1h0M1416.3 1344.1h0M1438.8 1344.1h0M1461.2 1344.1h0M1483.6 1344.1h0M1506.0 1344.1h0M1528.5 1344.1h0M1550.9 1344.1h0M1573.3 1344.1h0M1595.8 1344.1h0M1618.2 1344.1h0M1640.6 1344.1h0M1663.1 1344.1h0M1685.5 1344.1h0M1707.9 1344.1h0M1730.4 1344.1h0M1752.8 1344.1h0M1775.2 1344.1h0M1797.6 1344.1h0M1091.1 1355.3h0M1113.5 1355.3h0M1136.0 1355.3h0M1158.4 1355.3h0M1180.8 1355.3h0M1203.2 1355.3h0M1225.7 1355.3h0M1248.1 1355.3h0M1270.5 1355.3h0M1293.0 1355.3h0M1315.4 1355.3h0M1337.8 1355.3h0M1360.3 1355.3h0M1382.7 1355.3h0M1405.1 1355.3h0M1427.5 1355.3h0M1450.0 1355.3h0M1472.4 1355.3h0M1494.8 1355.3h0M1517.3 1355.3h0M1539.7 1355.3h0M1562.1 1355.3h0M1584.6 1355.3h0M1607.0 1355.3h0M1629.4 1355.3h0M1651.8 1355.3h0M1674.3 1355.3h0M1696.7 1355.3h0M1719.1 1355.3h0M1741.6 1355.3h0M1764.0 1355.3h0M1102.3 1366.5h0M1124.7 1366.5h0M1147.2 1366.5h0M1169.6 1366.5h0M1192.0 1366.5h0M1214.5 1366.5h0M1236.9 1366.5h0M1259.3 1366.5h0M1281.8 1366.5h0M1304.2 1366.5h0M1326.6 1366.5h0M1349.0 1366.5h0M1371.5 1366.5h0M1393.9 1366.5h0M1416.3 1366.5h0M1438.8 1366.5h0M1461.2 1366.5h0M1483.6 1366.5h0M1506.0 1366.5h0M1528.5 1366.5h0M1550.9 1366.5h0M1573.3 1366.5h0M1595.8 1366.5h0M1618.2 1366.5h0M1640.6 1366.5h0M1663.1 1366.5h0M1685.5 1366.5h0M1707.9 1366.5h0M1730.4 1366.5h0M1113.5 1377.7h0M1136.0 1377.7h0M1158.4 1377.7h0M1180.8 1377.7h0M1203.2 1377.7h0M1225.7 1377.7h0M1248.1 1377.7h0M1270.5 1377.7h0M1293.0 1377.7h0M1315.4 1377.7h0M1337.8 1377.7h0M1360.3 1377.7h0M1382.7 1377.7h0M1405.1 1377.7h0M1427.5 1377.7h0M1450.0 1377.7h0M1472.4 1377.7h0M1494.8 1377.7h0M1517.3 1377.7h0M1539.7 1377.7h0M1562.1 1377.7h0M1584.6 1377.7h0M1607.0 1377.7h0M1629.4 1377.7h0M1651.8 1377.7h0M1674.3 1377.7h0M1696.7 1377.7h0M1102.3 1388.9h0M1124.7 1388.9h0M1147.2 1388.9h0M1169.6 1388.9h0M1192.0 1388.9h0M1214.5 1388.9h0M1236.9 1388.9h0M1259.3 1388.9h0M1281.8 1388.9h0M1304.2 1388.9h0M1326.6 1388.9h0M1349.0 1388.9h0M1371.5 1388.9h0M1393.9 1388.9h0M1416.3 1388.9h0M1438.8 1388.9h0M1461.2 1388.9h0M1483.6 1388.9h0M1506.0 1388.9h0M1528.5 1388.9h0M1550.9 1388.9h0M1573.3 1388.9h0M1595.8 1388.9h0M1618.2 1388.9h0M1640.6 1388.9h0M1663.1 1388.9h0M1685.5 1388.9h0M1113.5 1400.1h0M1136.0 1400.1h0M1158.4 1400.1h0M1180.8 1400.1h0M1203.2 1400.1h0M1225.7 1400.1h0M1248.1 1400.1h0M1270.5 1400.1h0M1293.0 1400.1h0M1315.4 1400.1h0M1337.8 1400.1h0M1360.3 1400.1h0M1382.7 1400.1h0M1405.1 1400.1h0M1427.5 1400.1h0M1450.0 1400.1h0M1472.4 1400.1h0M1494.8 1400.1h0M1517.3 1400.1h0M1539.7 1400.1h0M1562.1 1400.1h0M1584.6 1400.1h0M1607.0 1400.1h0M1629.4 1400.1h0M1651.8 1400.1h0M1674.3 1400.1h0M1696.7 1400.1h0M1102.3 1411.3h0M1124.7 1411.3h0M1147.2 1411.3h0M1169.6 1411.3h0M1192.0 1411.3h0M1214.5 1411.3h0M1236.9 1411.3h0M1259.3 1411.3h0M1281.8 1411.3h0M1304.2 1411.3h0M1326.6 1411.3h0M1349.0 1411.3h0M1371.5 1411.3h0M1393.9 1411.3h0M1416.3 1411.3h0M1438.8 1411.3h0M1461.2 1411.3h0M1483.6 1411.3h0M1506.0 1411.3h0M1528.5 1411.3h0M1550.9 1411.3h0M1573.3 1411.3h0M1595.8 1411.3h0M1618.2 1411.3h0M1640.6 1411.3h0M1663.1 1411.3h0M1685.5 1411.3h0M1113.5 1422.5h0M1136.0 1422.5h0M1158.4 1422.5h0M1180.8 1422.5h0M1203.2 1422.5h0M1225.7 1422.5h0M1248.1 1422.5h0M1270.5 1422.5h0M1293.0 1422.5h0M1315.4 1422.5h0M1337.8 1422.5h0M1360.3 1422.5h0M1382.7 1422.5h0M1405.1 1422.5h0M1427.5 1422.5h0M1450.0 1422.5h0M1472.4 1422.5h0M1494.8 1422.5h0M1517.3 1422.5h0M1539.7 1422.5h0M1562.1 1422.5h0M1584.6 1422.5h0M1607.0 1422.5h0M1629.4 1422.5h0M1651.8 1422.5h0M1674.3 1422.5h0M1696.7 1422.5h0M1124.7 1433.6h0M1147.2 1433.6h0M1169.6 1433.6h0M1192.0 1433.6h0M1214.5 1433.6h0M1236.9 1433.6h0M1259.3 1433.6h0M1281.8 1433.6h0M1304.2 1433.6h0M1326.6 1433.6h0M1349.0 1433.6h0M1371.5 1433.6h0M1393.9 1433.6h0M1416.3 1433.6h0M1438.8 1433.6h0M1461.2 1433.6h0M1483.6 1433.6h0M1506.0 1433.6h0M1528.5 1433.6h0M1550.9 1433.6h0M1573.3 1433.6h0M1595.8 1433.6h0M1618.2 1433.6h0M1640.6 1433.6h0M1663.1 1433.6h0M1685.5 1433.6h0M1136.0 1444.8h0M1158.4 1444.8h0M1180.8 1444.8h0M1203.2 1444.8h0M1225.7 1444.8h0M1248.1 1444.8h0M1270.5 1444.8h0M1293.0 1444.8h0M1315.4 1444.8h0M1337.8 1444.8h0M1360.3 1444.8h0M1382.7 1444.8h0M1405.1 1444.8h0M1427.5 1444.8h0M1450.0 1444.8h0M1472.4 1444.8h0M1494.8 1444.8h0M1517.3 1444.8h0M1539.7 1444.8h0M1562.1 1444.8h0M1584.6 1444.8h0M1607.0 1444.8h0M1629.4 1444.8h0M1651.8 1444.8h0M1674.3 1444.8h0M1696.7 1444.8h0M1124.7 1456.0h0M1147.2 1456.0h0M1169.6 1456.0h0M1192.0 1456.0h0M1214.5 1456.0h0M1236.9 1456.0h0M1259.3 1456.0h0M1281.8 1456.0h0M1304.2 1456.0h0M1326.6 1456.0h0M1349.0 1456.0h0M1371.5 1456.0h0M1393.9 1456.0h0M1416.3 1456.0h0M1438.8 1456.0h0M1461.2 1456.0h0M1483.6 1456.0h0M1506.0 1456.0h0M1528.5 1456.0h0M1550.9 1456.0h0M1573.3 1456.0h0M1595.8 1456.0h0M1618.2 1456.0h0M1640.6 1456.0h0M1663.1 1456.0h0M1685.5 1456.0h0M1136.0 1467.2h0M1158.4 1467.2h0M1180.8 1467.2h0M1203.2 1467.2h0M1225.7 1467.2h0M1248.1 1467.2h0M1270.5 1467.2h0M1293.0 1467.2h0M1315.4 1467.2h0M1337.8 1467.2h0M1360.3 1467.2h0M1382.7 1467.2h0M1405.1 1467.2h0M1427.5 1467.2h0M1450.0 1467.2h0M1472.4 1467.2h0M1494.8 1467.2h0M1517.3 1467.2h0M1539.7 1467.2h0M1562.1 1467.2h0M1584.6 1467.2h0M1607.0 1467.2h0M1629.4 1467.2h0M1651.8 1467.2h0M1674.3 1467.2h0M1696.7 1467.2h0M1147.2 1478.4h0M1169.6 1478.4h0M1192.0 1478.4h0M1214.5 1478.4h0M1236.9 1478.4h0M1259.3 1478.4h0M1281.8 1478.4h0M1304.2 1478.4h0M1326.6 1478.4h0M1349.0 1478.4h0M1371.5 1478.4h0M1393.9 1478.4h0M1416.3 1478.4h0M1438.8 1478.4h0M1461.2 1478.4h0M1483.6 1478.4h0M1506.0 1478.4h0M1528.5 1478.4h0M1550.9 1478.4h0M1573.3 1478.4h0M1595.8 1478.4h0M1618.2 1478.4h0M1640.6 1478.4h0M1663.1 1478.4h0M1685.5 1478.4h0M1158.4 1489.6h0M1180.8 1489.6h0M1203.2 1489.6h0M1225.7 1489.6h0M1248.1 1489.6h0M1270.5 1489.6h0M1293.0 1489.6h0M1315.4 1489.6h0M1337.8 1489.6h0M1360.3 1489.6h0M1382.7 1489.6h0M1405.1 1489.6h0M1427.5 1489.6h0M1450.0 1489.6h0M1472.4 1489.6h0M1494.8 1489.6h0M1517.3 1489.6h0M1539.7 1489.6h0M1562.1 1489.6h0M1584.6 1489.6h0M1607.0 1489.6h0M1629.4 1489.6h0M1651.8 1489.6h0M1674.3 1489.6h0M1304.2 1500.8h0M1326.6 1500.8h0M1349.0 1500.8h0M1371.5 1500.8h0M1393.9 1500.8h0M1416.3 1500.8h0M1438.8 1500.8h0M1461.2 1500.8h0M1483.6 1500.8h0M1506.0 1500.8h0M1528.5 1500.8h0M1550.9 1500.8h0M1573.3 1500.8h0M1595.8 1500.8h0M1618.2 1500.8h0M1640.6 1500.8h0M1663.1 1500.8h0M1685.5 1500.8h0M373.3 1512.0h0M395.8 1512.0h0M418.2 1512.0h0M1315.4 1512.0h0M1337.8 1512.0h0M1360.3 1512.0h0M1382.7 1512.0h0M1405.1 1512.0h0M1427.5 1512.0h0M1450.0 1512.0h0M1472.4 1512.0h0M1494.8 1512.0h0M1517.3 1512.0h0M1539.7 1512.0h0M1562.1 1512.0h0M1584.6 1512.0h0M1607.0 1512.0h0M1629.4 1512.0h0M1651.8 1512.0h0M1674.3 1512.0h0M339.7 1523.2h0M362.1 1523.2h0M384.5 1523.2h0M407.0 1523.2h0M429.4 1523.2h0M451.8 1523.2h0M1326.6 1523.2h0M1349.0 1523.2h0M1371.5 1523.2h0M1393.9 1523.2h0M1416.3 1523.2h0M1438.8 1523.2h0M1461.2 1523.2h0M1506.0 1523.2h0M1528.5 1523.2h0M1550.9 1523.2h0M1573.3 1523.2h0M1595.8 1523.2h0M1618.2 1523.2h0M1640.6 1523.2h0M1663.1 1523.2h0M1685.5 1523.2h0M328.5 1534.4h0M350.9 1534.4h0M373.3 1534.4h0M395.8 1534.4h0M418.2 1534.4h0M440.6 1534.4h0M463.1 1534.4h0M485.5 1534.4h0M1315.4 1534.4h0M1337.8 1534.4h0M1360.3 1534.4h0M1382.7 1534.4h0M1405.1 1534.4h0M1427.5 1534.4h0M1450.0 1534.4h0M1517.3 1534.4h0M1539.7 1534.4h0M1562.1 1534.4h0M1584.6 1534.4h0M1607.0 1534.4h0M1629.4 1534.4h0M1651.8 1534.4h0M1674.3 1534.4h0M317.3 1545.6h0M339.7 1545.6h0M362.1 1545.6h0M384.5 1545.6h0M407.0 1545.6h0M429.4 1545.6h0M451.8 1545.6h0M474.3 1545.6h0M496.7 1545.6h0M1326.6 1545.6h0M1349.0 1545.6h0M1371.5 1545.6h0M1393.9 1545.6h0M1416.3 1545.6h0M1438.8 1545.6h0M1618.2 1545.6h0M1640.6 1545.6h0M1663.1 1545.6h0M1685.5 1545.6h0" fill="none" stroke="#06062c" stroke-width="7.0" stroke-linecap="square"/>
</g>
<rect class="fr" x="168.5" y="991.5" width="1692" height="562.5"/>
<path class="tk" d="M168.5 991.5h-23M168.5 1132.1h-23M168.5 1272.8h-23M168.5 1413.4h-23M168.5 1554h-23M168.5 1554v24M450.5 1554v24M732.5 1554v24M1014.5 1554v24M1296.5 1554v24M1578.5 1554v24M1860.5 1554v24"/>
<text class="t yl" x="130" y="1011">70N</text>
<text class="t yl" x="130" y="1151.6">65N</text>
<text class="t yl" x="130" y="1292.2">60N</text>
<text class="t yl" x="130" y="1432.9">55N</text>
<text class="t yl" x="130" y="1573.5">50N</text>
<text class="t xl" x="169" y="1634.3">80E</text>
<text class="t xl" x="451" y="1634.3">90E</text>
<text class="t xl" x="733" y="1634.3">100E</text>
<text class="t xl" x="1015" y="1634.3">110E</text>
<text class="t xl" x="1297" y="1634.3">120E</text>
<text class="t xl" x="1579" y="1634.3">130E</text>
<text class="t xl" x="1861" y="1634.3">140E</text>
<text class="lab" x="97" y="939.3" textLength="73" lengthAdjust="spacingAndGlyphs">(b)</text>
<text class="ttl" x="177" y="968.2" textLength="490" lengthAdjust="spacingAndGlyphs">2m air temperature</text>
<rect class="cb" x="282" y="1699.3" width="122.2" height="44.7" fill="#2600df"/>
<rect class="cb" x="404.2" y="1699.3" width="122.2" height="44.7" fill="#1414ff"/>
<rect class="cb" x="526.5" y="1699.3" width="122.2" height="44.7" fill="#0a84ff"/>
<rect class="cb" x="648.7" y="1699.3" width="122.2" height="44.7" fill="#00d2ff"/>
<rect class="cb" x="770.9" y="1699.3" width="122.2" height="44.7" fill="#a0fafa"/>
<rect class="cb" x="893.2" y="1699.3" width="122.2" height="44.7" fill="#e6ffff"/>
<rect class="cb" x="1015.4" y="1699.3" width="122.2" height="44.7" fill="#fff0be"/>
<rect class="cb" x="1137.6" y="1699.3" width="122.2" height="44.7" fill="#ffac6e"/>
<rect class="cb" x="1259.9" y="1699.3" width="122.2" height="44.7" fill="#ff7850"/>
<rect class="cb" x="1382.1" y="1699.3" width="122.2" height="44.7" fill="#ff3c3c"/>
<rect class="cb" x="1504.3" y="1699.3" width="122.2" height="44.7" fill="#f50a28"/>
<rect class="cb" x="1626.6" y="1699.3" width="122.2" height="44.7" fill="#c3001e"/>
<text class="cl" font-size="33" transform="translate(404.2 1782.6) scale(1.05 1)">-1</text>
<text class="cl" font-size="33" transform="translate(526.5 1782.6) scale(1.05 1)">-0.8</text>
<text class="cl" font-size="33" transform="translate(648.7 1782.6) scale(1.05 1)">-0.6</text>
<text class="cl" font-size="33" transform="translate(770.9 1782.6) scale(1.05 1)">-0.4</text>
<text class="cl" font-size="33" transform="translate(893.2 1782.6) scale(1.05 1)">-0.2</text>
<text class="cl" font-size="33" transform="translate(1015.4 1782.6) scale(1.05 1)">0</text>
<text class="cl" font-size="33" transform="translate(1137.6 1782.6) scale(1.05 1)">0.2</text>
<text class="cl" font-size="33" transform="translate(1259.9 1782.6) scale(1.05 1)">0.4</text>
<text class="cl" font-size="33" transform="translate(1382.1 1782.6) scale(1.05 1)">0.6</text>
<text class="cl" font-size="33" transform="translate(1504.3 1782.6) scale(1.05 1)">0.8</text>
<text class="cl" font-size="33" transform="translate(1626.6 1782.6) scale(1.05 1)">1</text>
</g>
<g id="panel-c">
<clipPath id="clip-c"><rect x="166.5" y="1912" width="1692.1" height="562.9"/></clipPath>
<g clip-path="url(#clip-c)">
<rect x="100" y="1880" width="1850" height="640" fill="#783200"/>
<path fill="#ac6434" fill-rule="evenodd" d="M342.9 2004.9L323 2017.5L272.3 2058.5L201.9 2049.5L163.6 2046.3L163.6 2477.9L964.1 2477.9L977.4 2449.4L983.3 2439.7L1047.9 2419.8L1114.3 2369.4L1118.4 2365.4L1123.4 2369.4L1188.8 2405.3L1259.3 2436.4L1265.8 2439.7L1329.8 2453.3L1372.7 2477.9L1746.7 2477.9L1752.6 2439.7L1752.9 2439.4L1823.3 2424.9L1848.1 2439.7L1861.6 2445.7L1861.6 2163.4L1823.4 2167.8L1779.9 2158.2L1752.9 2149.2L1700.7 2087.9L1681.4 2017.5L1611.9 1956.8L1541.3 1965.3L1470.8 1975.4L1419.9 2017.5L1400.3 2030.6L1349.2 2017.5L1329.9 2006L1259.4 1991.9L1188.9 1958.4L1118.4 1977.7L1051.3 1947.2L1047.9 1945.7L977.4 1929.7L930.2 1909L531.9 1909L554.3 1930.7L624.8 1930.2L695.3 1939.1L713.5 1947.2L765.8 1971L829 2017.6L831.2 2087.9L765.8 2133.1L695.4 2100.9L674.6 2087.9L624.9 2055.5L554.3 2056.9L483.9 2062.7L413.4 2030.8L358.4 2017.5ZM413.4 2161.1L409.3 2158.3L413.4 2156.4L483.8 2152.6L486.7 2158.3L554.3 2200.7L612 2228.6L554.3 2253.4L483.9 2230.9L481 2228.6ZM667.3 2299L624.9 2314.3L602.4 2299L624.9 2243.2ZM876.5 2369.4L906.9 2337.3L977.3 2366.3L979.8 2369.4L977.3 2404.1L906.9 2402.1ZM1267.3 2158.3L1259.4 2162L1253.3 2158.3L1259.4 2152.3ZM1400.3 2305.4L1387.2 2299L1400.3 2292.3L1409.8 2299Z"/>
<path fill="#d6966e" fill-rule="evenodd" d="M342.8 2036L278.6 2087.9L272.4 2093.1L266.8 2087.9L201.9 2063.8L163.6 2059.9L163.6 2477.9L926.2 2477.9L942.5 2439.7L906.9 2421.9L858.2 2369.4L906.9 2318L977.3 2341.1L999.8 2369.4L1047.8 2404.9L1094.7 2369.4L1118.4 2346.4L1147.7 2369.4L1188.8 2392L1259.3 2424.8L1287.7 2439.7L1329.8 2448.6L1390.6 2477.9L1735.3 2477.9L1739.9 2439.7L1752.9 2425.9L1823.3 2393.9L1861.6 2416.3L1861.6 2177.4L1823.4 2180.1L1752.9 2165.9L1701.4 2158.3L1684.7 2087.9L1682.4 2079.5L1666 2017.5L1611.9 1970.2L1541.3 1977.4L1470.8 1989.4L1436.8 2017.5L1400.3 2041.9L1329.9 2049.8L1286.4 2017.5L1259.4 2010.9L1188.9 1978.5L1118.4 1992.1L1047.9 1957.4L977.4 1947.9L973.4 1947.2L906.9 1929.2L836.4 1920.2L799 1909L537.8 1909L554.3 1925L624.9 1920.7L695.3 1917L765.8 1948.3L836.3 1967.5L858.3 2017.5L842.8 2087.9L836.3 2093.8L765.8 2140.2L695.4 2112.8L655.5 2087.9L624.9 2067.9L554.3 2064.1L483.9 2076.4L413.4 2038.8ZM748.3 2299L765.9 2296.8L836.3 2298.4L839.7 2299L836.3 2301.8L765.9 2311ZM554.4 2263.1L483.9 2242.5L466.8 2228.6L413.4 2175.3L388.8 2158.3L413.4 2146.7L483.8 2117.4L504 2158.3L554.3 2189.8L624.8 2220.4L630.7 2228.6L686.6 2299L624.9 2321.3L592.2 2299ZM1259.4 2135.3L1290.1 2158.3L1259.4 2172.7L1235.9 2158.3ZM1400.3 2314L1369.6 2299L1400.3 2283.2L1422.5 2299Z"/>
<path fill="#ebb99b" fill-rule="evenodd" d="M413.4 2046.9L342.8 2070.6L321.4 2087.9L272.4 2128.8L228.3 2087.9L201.9 2078.1L163.6 2073.5L163.6 2477.9L865.7 2477.9L904.7 2439.7L839.8 2369.3L836.4 2358.7L807.4 2369.3L765.9 2375.4L761.9 2369.3L695.4 2306.6L624.9 2328.3L582 2299L554.4 2272.8L483.9 2254.1L452.5 2228.6L413.4 2189.5L368.4 2158.3L413.4 2137.1L481.7 2087.9ZM554.3 1919.3L624.9 1911.1L633.9 1909L543.7 1909ZM624.9 2080.4L554.3 2071.3L488.5 2087.9L521.4 2158.3L554.3 2178.9L624.8 2201L644.6 2228.6L695.3 2289.9L765.9 2282.3L836.3 2286.7L906.8 2298.8L909.2 2299L977.3 2315.9L1019.9 2369.4L1047.8 2390.1L1075.1 2369.4L1118.4 2327.3L1172 2369.4L1188.8 2378.6L1259.3 2413.3L1309.6 2439.7L1329.8 2444L1400.3 2471.4L1405.9 2477.9L1723.9 2477.9L1727.2 2439.7L1752.9 2412.5L1819 2369.4L1823.4 2362.4L1840.8 2369.4L1861.6 2379.4L1861.6 2191.3L1823.4 2192.5L1752.9 2180.5L1682.4 2175.6L1665.9 2158.3L1671.2 2087.9L1650.6 2017.5L1611.9 1983.7L1541.3 1989.6L1470.8 2003.4L1453.7 2017.5L1400.3 2053.2L1336.8 2087.9L1329.8 2109.8L1318.7 2087.9L1259.4 2036.4L1230.4 2017.5L1188.9 1998.7L1118.4 2006.5L1047.9 1968.8L977.3 1968L906.8 1973.5L887 2017.5L855.9 2087.9L836.3 2105.6L765.8 2147.2L695.4 2124.8L636.4 2087.9ZM1259.4 2301.5L1256.2 2299L1259.4 2296.7L1266.5 2299ZM1259.4 2118.3L1312.9 2158.3L1259.4 2183.4L1218.5 2158.3ZM1435.1 2299L1400.3 2322.6L1352 2299L1400.3 2274.2ZM1604.9 2228.6L1611.9 2217.5L1623.7 2228.6L1611.9 2233.9Z"/>
<path fill="#fce1d2" fill-rule="evenodd" d="M549.6 1909L554.4 1913.6L581 1909ZM413.4 2054.9L350.5 2087.9L342.8 2135.1L301.7 2158.2L272.4 2160.2L268.5 2158.3L201.9 2094.5L170.7 2087.9L163.6 2086.9L163.6 2477.9L844.8 2477.9L883.8 2439.7L836.4 2387.9L765.9 2398.1L747.1 2369.3L695.4 2320.6L624.9 2335.2L571.9 2299L554.4 2282.4L483.9 2265.6L438.3 2228.6L413.4 2203.7L347.9 2158.3L413.4 2127.4L468.3 2087.9ZM554.4 2078.5L517.1 2087.9L538.7 2158.3L554.3 2168.1L624.8 2181.6L658.4 2228.6L695.3 2273.2L765.8 2267.8L836.3 2275.1L906.8 2287.8L977.3 2294.8L1000.3 2299L1040 2369.4L1047.8 2375.2L1055.6 2369.4L1118.4 2308.3L1188.8 2360.1L1195.8 2369.4L1259.3 2401.8L1329.8 2438.9L1400.3 2460.2L1415.4 2477.9L1712.5 2477.9L1714.6 2439.7L1752.9 2399L1798.3 2369.4L1823.4 2329L1861.6 2341.4L1861.6 2205.3L1823.4 2204.8L1752.9 2195.2L1682.4 2197.1L1645.5 2158.3L1658.2 2087.9L1635.1 2017.5L1611.9 1997.2L1541.3 2001.7L1470.8 2017.3L1400.3 2064.5L1357.4 2087.9L1333.2 2158.3L1329.8 2173.7L1259.4 2194.2L1201.1 2158.3L1259.4 2101.2L1285.4 2087.9L1259.4 2065.3L1188.9 2020.3L1118.4 2030.4L1113.7 2017.5L1047.9 1980.3L977.3 1988.1L919.2 2017.5L906.8 2024.3L868.9 2087.9L836.3 2117.4L765.8 2154.2L695.4 2136.7L624.9 2105.3L608.4 2087.9ZM1447.8 2299L1400.3 2331.2L1334.4 2299L1400.3 2265.2ZM1137.5 2158.3L1118.4 2161L1107.8 2158.3L1118.4 2144ZM1234 2299L1259.4 2280.6L1317 2299L1259.4 2319.3ZM1611.9 2244.5L1590.9 2228.6L1611.9 2195.1L1647.5 2228.6Z"/>
<path fill="#aaffff" fill-rule="evenodd" d="M413.4 2062.9L365.8 2087.9L413.4 2117.8L454.9 2087.9ZM554.4 2085.7L545.7 2087.9L554.3 2140.7L577.8 2158.3L624.8 2162.2L672.2 2228.6L695.3 2256.5L765.8 2253.3L836.3 2263.4L906.8 2276.9L977.3 2282.1L1047.8 2293.4L1118.3 2292.9L1141.9 2299L1188.8 2330L1218.4 2369.4L1259.3 2390.2L1329.8 2427.8L1369.8 2439.7L1400.3 2449L1424.9 2477.9L1701.1 2477.9L1701.9 2439.7L1752.9 2385.5L1777.6 2369.4L1820 2299L1823.4 2292.1L1859.3 2299L1861.6 2299.3L1861.6 2219.2L1823.4 2217.2L1752.9 2209.8L1682.4 2218.7L1625.1 2158.3L1645.2 2087.9L1619.7 2017.5L1611.9 2010.7L1541.3 2013.9L1524.9 2017.5L1470.8 2031L1400.3 2075.8L1378.1 2087.9L1346.3 2158.3L1331.6 2228.6L1400.3 2256.2L1460.4 2299L1400.3 2339.8L1329.9 2307.7L1259.4 2337.1L1211.7 2299L1259.4 2264.4L1327.4 2228.6L1259.4 2204.9L1188.9 2181.7L1118.4 2171.6L1067.7 2158.3L1118.4 2089.7L1188.9 2135.4L1240.9 2087.9L1188.8 2062.2L1118.4 2086.1L1093.4 2017.5L1047.9 1991.7L977.3 2008.3L959 2017.5L906.8 2046.2L882 2087.9L836.3 2129.2L776.2 2158.3L765.8 2172.3L741.4 2158.2L695.4 2148.7L624.9 2149.4L566.8 2087.9ZM1495.3 2369.4L1470.9 2386.6L1455.8 2369.4L1470.9 2331.9ZM1576.9 2228.6L1611.9 2172.8L1671.3 2228.6L1611.9 2255.1ZM201.9 2115.6L163.6 2108.5L163.6 2477.9L824.3 2477.9L836.4 2465.8L863 2439.7L836.4 2410.7L765.9 2420.7L732.3 2369.3L695.4 2334.5L624.9 2342.2L561.7 2299L554.4 2292.1L483.9 2277.2L424 2228.6L413.4 2218L342.9 2171.9L272.4 2171.5L246.5 2158.3Z"/>
<path fill="#46f0ff" fill-rule="evenodd" d="M413.4 2071L381.1 2087.9L413.4 2108.2L441.5 2087.9ZM201.9 2136.7L163.6 2131.3L163.6 2477.9L803.9 2477.9L836.4 2445.3L842.1 2439.7L836.4 2433.5L792.1 2439.7L765.9 2464.7L761.7 2439.7L717.5 2369.3L695.4 2348.5L624.9 2349.2L554.4 2301.3L537.1 2299L483.9 2288.8L423.6 2299L413.3 2300.5L353 2299L406 2228.6L342.9 2189.9L272.4 2182.8L224.4 2158.3ZM977.3 2026.7L906.8 2068.1L895 2087.9L836.3 2141L800.7 2158.3L765.8 2205.4L695.3 2174.4L686.1 2228.6L695.3 2239.8L765.8 2238.8L836.3 2251.7L906.8 2266L977.3 2269.4L1047.8 2275.8L1118.3 2281L1187.6 2299L1188.8 2299.8L1241 2369.4L1259.3 2378.7L1329.8 2416.8L1400.3 2435L1406.4 2439.7L1436.4 2477.9L1689.7 2477.9L1689.2 2439.7L1752.9 2372L1756.9 2369.4L1786.5 2299L1808.8 2228.6L1752.8 2224.5L1728.5 2228.6L1694.9 2299L1682.4 2301.9L1677.8 2299L1611.9 2265.7L1563 2228.6L1606.3 2158.3L1611.9 2145.3L1632.1 2087.9L1611.9 2034.4L1541.3 2025.2L1470.8 2044.7L1400.3 2087L1398.8 2087.9L1359.4 2158.3L1354.1 2228.6L1400.3 2247.2L1470.8 2293.3L1479.2 2299L1521.4 2369.4L1470.9 2405L1439.7 2369.3L1400.4 2348.3L1329.9 2319.3L1259.4 2354.9L1189.5 2299L1259.4 2248.3L1296.7 2228.6L1259.4 2215.6L1206.6 2228.6L1188.9 2294.5L1182.9 2228.6L1118.4 2182.1L1047.9 2169.5L1035.2 2158.3L1047.9 2141.9L1092.5 2087.9L1073.2 2017.5L1047.8 2003.2L998.6 2017.5Z"/>
<path fill="#00e6ff" fill-rule="evenodd" d="M413.4 2079L396.5 2087.9L413.4 2098.5L428.1 2087.9ZM201.9 2157.8L163.6 2154.1L163.6 2477.9L741.9 2477.9L735.9 2439.7L702.7 2369.3L695.4 2362.5L624.9 2356.2L554.4 2309.3L483.9 2300.3L413.3 2310.7L342.9 2309.8L280.1 2299L342.9 2266.6L376.6 2228.6L342.9 2208L272.4 2194.1L202.4 2158.3ZM977.3 2043.8L909.4 2087.9L906.8 2091.5L836.3 2152.8L825.1 2158.3L782.5 2228.6L836.3 2240L906.8 2255.1L1047.8 2258.2L1118.3 2269.1L1168.3 2228.6L1118.4 2192.7L1047.9 2191.6L1010.1 2158.3L1047.9 2109.5L1065.7 2087.9L1053 2017.5L1047.9 2014.6L1037.9 2017.5ZM1421.5 2087.9L1400.3 2109.2L1372.5 2158.3L1376.6 2228.6L1400.3 2238.2L1470.8 2261.5L1525.4 2299L1541.3 2340.7L1544.6 2369.4L1546.4 2439.7L1541.3 2444.9L1526.4 2439.7L1470.9 2423.4L1423.6 2369.3L1400.4 2356.9L1329.9 2330.9L1263.2 2369.4L1329.8 2405.8L1400.3 2408.2L1440.6 2439.7L1457.7 2477.9L1675.3 2477.9L1673.3 2439.7L1682.4 2432.4L1740.9 2369.4L1752.9 2299.6L1753.1 2299L1752.8 2298.3L1752.5 2299L1682.4 2315.6L1656.8 2299L1611.9 2276.2L1549 2228.6L1590.6 2158.3L1611.9 2108.4L1619.1 2087.9L1611.9 2068.8L1541.3 2036.2L1470.8 2058.3ZM1265.9 2228.6L1259.4 2226.3L1250 2228.6L1259.3 2232.1Z"/>
<path fill="#00e1fa" fill-rule="evenodd" d="M413.4 2087.1L411.8 2087.9L413.4 2088.9L414.7 2087.9ZM710.1 2439.7L695.4 2402.4L669.7 2369.3L624.9 2363.1L554.4 2317.4L483.8 2311.8L413.3 2320.8L342.9 2321L272.4 2313.9L201.9 2303.3L192 2299L201.9 2269.4L272.4 2277.9L342.9 2233.4L347.1 2228.6L342.9 2226L272.4 2205.4L201.9 2209.1L163.6 2205L163.6 2477.9L715.6 2477.9ZM977.4 2060.8L935.6 2087.9L906.8 2129.1L865.2 2158.3L837.7 2228.6L906.8 2244.2L977.4 2244L1047.8 2240.6L1118.3 2257.3L1153.6 2228.6L1118.4 2203.2L1047.9 2213.7L985 2158.3L1035.7 2087.9ZM1400.4 2365.5L1329.8 2342.6L1283.4 2369.4L1329.8 2394.7L1400.4 2381.3L1407.5 2369.4ZM1604.3 2087.9L1541.3 2047.3L1470.8 2072L1444.3 2087.9L1400.3 2132.2L1385.6 2158.3L1399 2228.6L1400.3 2229.2L1470.9 2229.7L1475.7 2228.7L1541.4 2216.3L1574.9 2158.3ZM1635.9 2299L1611.8 2286.8L1567 2299L1558.4 2369.4L1567.5 2439.7L1541.3 2466.6L1529.3 2477.9L1654.4 2477.9L1653.5 2439.7L1682.4 2416.4L1726.1 2369.4L1682.4 2329.2Z"/>
<path fill="#00aad2" fill-rule="evenodd" d="M311.2 2228.6L272.4 2216.8L228.2 2228.6L272.3 2253.8ZM402.8 2439.7L413.4 2435L428.5 2439.7L447.6 2477.9L686 2477.9L678.9 2439.7L624.9 2374.5L623.4 2369.3L554.4 2325.5L483.8 2323.3L413.3 2331L342.9 2332.1L272.4 2330.9L201.9 2319.2L163.6 2302.5L163.6 2477.9L393.2 2477.9ZM977.4 2077.8L961.8 2087.9L977.3 2120.3L999 2087.9ZM977.4 2212.6L906.8 2182.6L886.3 2228.6L906.8 2233.3L977.4 2231.3L1004.7 2228.6ZM1139 2228.6L1118.4 2213.8L1061 2228.6L1118.3 2245.4ZM1379.2 2369.4L1329.9 2354.2L1303.6 2369.4L1329.8 2383.7ZM1587.2 2087.9L1541.4 2058.3L1470.8 2085.7L1467.1 2087.9L1400.3 2155.3L1398.6 2158.3L1400.3 2166.8L1470.8 2203.3L1541.4 2189.1L1559.2 2158.3ZM1614.9 2299L1611.8 2297.4L1606.1 2299L1572.2 2369.4L1588.6 2439.7L1551.5 2477.9L1633.6 2477.9L1633.7 2439.7L1682.4 2400.4L1711.2 2369.4L1682.4 2342.9Z"/>
<polygon fill="#ac6434" points="734.5,2300 846.6,2300 766.2,2358.7"/>
<polygon fill="none" stroke="#3c3c3c" stroke-width="2.4" stroke-linejoin="round" points="834.5,2431.2 837.4,2433.1 844.1,2435.1 851.8,2436.3 860.1,2436.4 869.3,2435.7 877.7,2434.6 885,2433.5 891.5,2431.9 896.7,2429.4 899.5,2425.3 901,2420.3 903.6,2415.6 908.1,2411.7 913.7,2408.2 920.8,2405.3 930.6,2403.4 941.8,2402.1 951.9,2400.1 959.7,2396.7 966.4,2392.6 972.6,2388 978.9,2383 984.9,2377.7 989.9,2372.5 993.6,2367.9 996.5,2363.5 998.5,2358.7 999.4,2353.2 999.5,2347.3 1000.2,2341.4 1002.3,2335.3 1005,2329.3 1007.1,2324.2 1008.5,2320.5 1009.2,2317.7 1008.9,2315.5 1006.7,2313.7 1003.4,2312.4 1000.2,2312.1 997.7,2312.8 995.4,2314.6 993.3,2317.3 991.7,2321.1 990.3,2325.9 988.1,2331.1 984.7,2336.6 980.5,2342.6 976.1,2348.3 972,2353.6 967.7,2358.7 962.3,2363.9 954.8,2369.1 946.3,2374.3 938.1,2379.4 930.9,2384.1 924,2388.7 917.4,2393.2 910.7,2397.9 904.2,2402.5 898.4,2407 893.8,2411.4 890,2415.6 886.3,2419.1 883.3,2421.4 880.4,2423 876,2424.3 868.7,2425 859.9,2425.3 851.8,2426 844.3,2427.5 837.5,2429.3"/>
<polyline fill="none" stroke="#2c3c3c" stroke-width="2.6" stroke-linejoin="round" points="1870.4,2258.6 1859,2262 1835.9,2270.7 1818.6,2282.7 1801.4,2296.5 1775.5,2310.4 1749.6,2325.9 1723.7,2336.2 1727.1,2344.9 1758.2,2346.6 1763.4,2350.1 1768.6,2365.6 1780.6,2357 1791,2355.2 1787.6,2374.2 1801.4,2372.5 1815.2,2365.6 1825.5,2357 1859,2358.7 1870.4,2358.7"/>
<polygon fill="none" stroke="#2c3c3c" stroke-width="2.6" stroke-linejoin="round" points="1783.2,2336.2 1784.2,2333.3 1786,2330.4 1788.4,2328.5 1791.4,2327.9 1794.9,2328.3 1797.9,2329.3 1800.4,2331.1 1802.4,2333.6 1803.1,2336.2 1801.8,2339.3 1799.1,2342.6 1796.2,2344.9 1793,2345.5 1789.5,2345.2 1786.7,2344 1784.8,2341.9 1783.5,2339.1"/>
<path d="M1829.8 1984.5h0M1852.2 1984.5h0M1818.6 1995.7h0M1841.0 1995.7h0M1863.5 1995.7h0M1784.9 2006.9h0M1807.4 2006.9h0M1829.8 2006.9h0M1852.2 2006.9h0M1773.7 2018.1h0M1796.1 2018.1h0M1818.6 2018.1h0M1841.0 2018.1h0M1863.5 2018.1h0M1784.9 2029.3h0M1807.4 2029.3h0M1829.8 2029.3h0M1852.2 2029.3h0M1796.1 2040.5h0M1818.6 2040.5h0M1841.0 2040.5h0M1863.5 2040.5h0M1807.4 2051.6h0M1829.8 2051.6h0M1852.2 2051.6h0M1818.6 2062.8h0M1841.0 2062.8h0M1863.5 2062.8h0M1829.8 2074.0h0M1852.2 2074.0h0M595.6 2432.1h0M618.0 2432.1h0M561.9 2443.3h0M584.4 2443.3h0M606.8 2443.3h0M629.3 2443.3h0M573.2 2454.5h0M595.6 2454.5h0M618.0 2454.5h0M640.5 2454.5h0M584.4 2465.7h0M606.8 2465.7h0M629.3 2465.7h0" fill="none" stroke="#1a0a00" stroke-width="7.0" stroke-linecap="square"/>
</g>
<rect class="fr" x="166.5" y="1912" width="1692.1" height="562.9"/>
<path class="tk" d="M166.5 1912h-23M166.5 2052.7h-23M166.5 2193.4h-23M166.5 2334.2h-23M166.5 2474.9h-23M166.5 2474.9v24M448.5 2474.9v24M730.5 2474.9v24M1012.5 2474.9v24M1294.6 2474.9v24M1576.6 2474.9v24M1858.6 2474.9v24"/>
<text class="t yl" x="128" y="1931.5">70N</text>
<text class="t yl" x="128" y="2072.2">65N</text>
<text class="t yl" x="128" y="2212.9">60N</text>
<text class="t yl" x="128" y="2353.7">55N</text>
<text class="t yl" x="128" y="2494.4">50N</text>
<text class="t xl" x="167" y="2555.2">80E</text>
<text class="t xl" x="449" y="2555.2">90E</text>
<text class="t xl" x="731" y="2555.2">100E</text>
<text class="t xl" x="1013" y="2555.2">110E</text>
<text class="t xl" x="1295.1" y="2555.2">120E</text>
<text class="t xl" x="1577.1" y="2555.2">130E</text>
<text class="t xl" x="1859.1" y="2555.2">140E</text>
<text class="lab" x="97" y="1859.8" textLength="73" lengthAdjust="spacingAndGlyphs">(c)</text>
<text class="ttl" x="176" y="1888.7" textLength="313" lengthAdjust="spacingAndGlyphs">precipitation</text>
<rect class="cb" x="280" y="2591.2" width="146.8" height="46" fill="#783200"/>
<rect class="cb" x="426.8" y="2591.2" width="146.8" height="46" fill="#ac6434"/>
<rect class="cb" x="573.5" y="2591.2" width="146.8" height="46" fill="#d6966e"/>
<rect class="cb" x="720.2" y="2591.2" width="146.8" height="46" fill="#ebb99b"/>
<rect class="cb" x="867" y="2591.2" width="146.8" height="46" fill="#fce1d2"/>
<rect class="cb" x="1013.8" y="2591.2" width="146.8" height="46" fill="#aaffff"/>
<rect class="cb" x="1160.5" y="2591.2" width="146.8" height="46" fill="#46f0ff"/>
<rect class="cb" x="1307.2" y="2591.2" width="146.8" height="46" fill="#00e6ff"/>
<rect class="cb" x="1454" y="2591.2" width="146.8" height="46" fill="#00e1fa"/>
<rect class="cb" x="1600.8" y="2591.2" width="146.8" height="46" fill="#00aad2"/>
<text class="cl" font-size="37" transform="translate(426.8 2676.3) scale(0.94 1)">-0.08</text>
<text class="cl" font-size="37" transform="translate(573.5 2676.3) scale(0.94 1)">-0.06</text>
<text class="cl" font-size="37" transform="translate(720.2 2676.3) scale(0.94 1)">-0.04</text>
<text class="cl" font-size="37" transform="translate(867 2676.3) scale(0.94 1)">-0.02</text>
<text class="cl" font-size="37" transform="translate(1013.8 2676.3) scale(0.94 1)">0</text>
<text class="cl" font-size="37" transform="translate(1160.5 2676.3) scale(0.94 1)">0.02</text>
<text class="cl" font-size="37" transform="translate(1307.2 2676.3) scale(0.94 1)">0.04</text>
<text class="cl" font-size="37" transform="translate(1454 2676.3) scale(0.94 1)">0.06</text>
<text class="cl" font-size="37" transform="translate(1600.8 2676.3) scale(0.94 1)">0.08</text>
</g>
</svg></body></html>
